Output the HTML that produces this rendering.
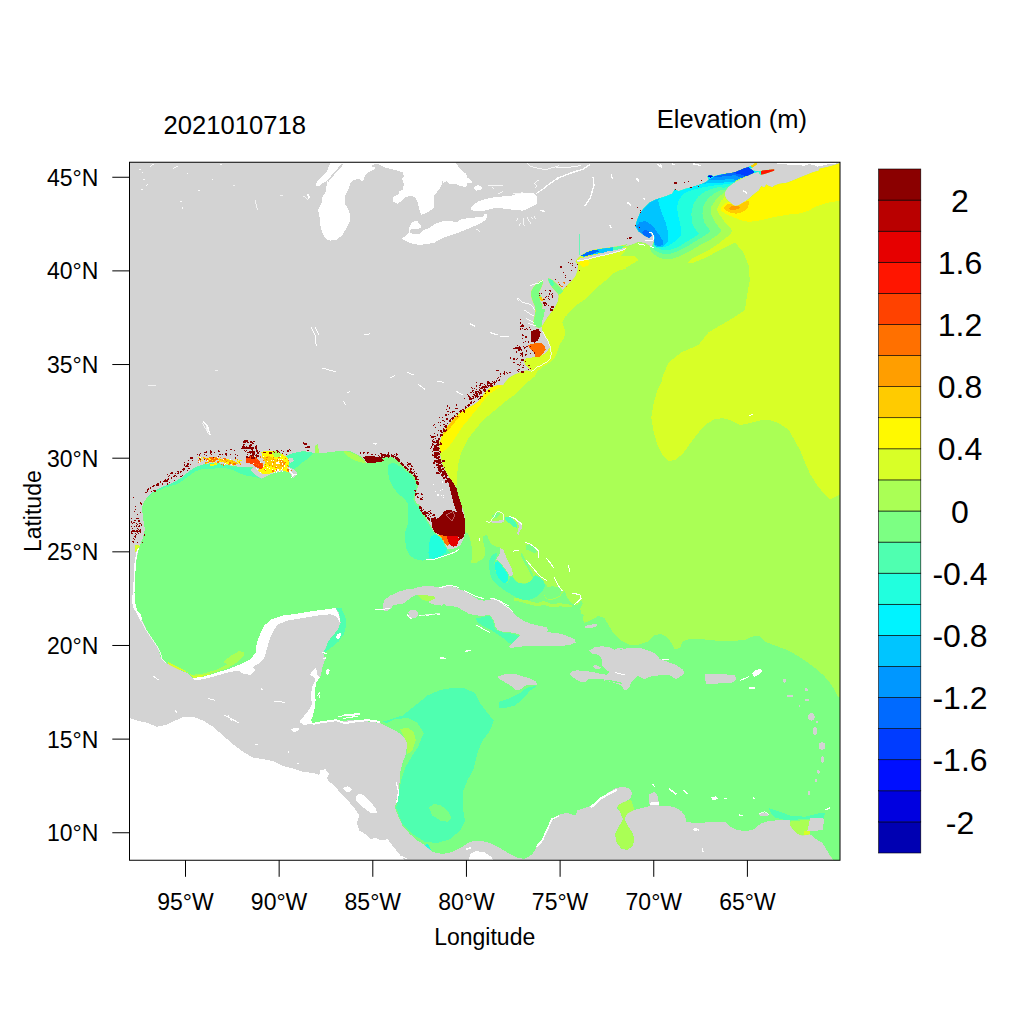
<!DOCTYPE html><html><head><meta charset="utf-8"><title>Elevation map</title>
<style>html,body{margin:0;padding:0;background:#fff}svg{display:block}text{font-family:"Liberation Sans",Arial,Helvetica,sans-serif;fill:#000}</style></head><body>
<svg width="1024" height="1024" viewBox="0 0 1024 1024">
<rect width="1024" height="1024" fill="#fff"/>
<defs><clipPath id="fr"><rect x="129.5" y="162.25" width="710.5" height="698"/></clipPath>
<clipPath id="oc"><path d="M839.9,163.3 835.0,165.1 826.6,167.3 818.8,169.1 819.5,170.5 812.5,172.6 808.3,174.3 801.3,177.1 794.2,179.9 787.2,182.7 778.8,184.1 774.5,185.8 772.4,187.2 768.9,186.2 766.4,184.5 764.4,187.6 761.3,186.2 760.2,188.1 759.0,190.5 755.9,192.8 752.8,195.2 749.6,198.3 746.5,200.6 743.4,202.6 740.2,204.5 737.9,205.7 734.8,206.1 732.4,204.5 730.1,202.6 727.8,200.6 725.8,198.3 724.8,195.2 724.8,192.0 727.8,187.3 732.4,183.4 737.1,181.1 741.8,178.8 746.5,176.4 750.4,174.5 753.5,173.3 755.9,172.5 758.6,171.7 759.0,173.3 760.2,174.8 764.5,174.1 768.4,172.7 774.2,170.8 774.2,169.2 768.4,169.8 762.1,170.5 758.6,171.3 756.7,170.9 753.5,170.5 750.4,168.6 752.8,167.4 757.4,163.9 755.9,162.3 753.5,164.3 750.4,165.9 748.1,167.0 744.9,167.8 740.2,169.8 735.6,171.7 730.9,172.9 726.2,173.3 721.5,174.5 716.8,175.6 712.9,176.8 712.1,175.6 709.0,175.2 707.4,176.4 709.0,179.5 705.9,182.3 701.2,184.2 696.5,185.8 691.8,187.3 686.0,188.8 678.5,191.2 674.8,189.5 672.2,193.8 666.0,196.2 656.0,199.5 649.8,202.5 643.5,208.8 639.8,213.8 637.2,220.0 635.5,226.2 638.5,231.2 643.5,235.0 649.0,238.0 652.0,235.5 650.0,232.8 652.0,232.0 654.5,236.2 654.0,241.2 651.5,246.8 644.8,243.0 638.5,242.0 631.0,245.0 623.5,246.8 628.0,244.0 620.0,246.0 610.0,247.5 600.0,248.8 590.0,250.6 583.8,253.8 581.0,255.4 578.1,258.1 575.6,261.2 578.1,265.0 577.8,270.0 575.6,276.2 572.5,280.0 568.8,283.8 565.0,287.5 562.8,290.4 560.6,287.8 556.9,284.0 553.1,280.6 550.0,278.8 548.1,278.5 549.1,282.5 551.6,286.5 554.8,290.2 558.2,294.0 558.8,296.2 558.1,301.2 555.0,307.5 551.2,312.5 547.5,317.5 544.4,322.5 541.9,326.5 540.6,322.5 543.1,317.5 543.8,312.5 541.9,310.0 542.5,305.0 540.0,301.2 541.2,296.2 538.8,292.5 541.2,287.5 543.1,282.5 541.9,280.0 537.5,283.1 533.8,286.9 531.2,291.2 531.2,296.2 532.8,301.2 535.0,306.2 535.6,311.2 534.4,317.5 533.1,322.5 535.0,326.2 539.4,328.1 541.9,326.2 542.5,331.2 545.0,336.2 548.1,341.2 550.0,346.2 551.2,352.5 550.6,358.1 547.5,361.2 542.5,363.8 537.5,366.9 533.8,370.0 531.2,371.2 526.2,370.6 520.0,372.5 513.8,375.0 508.8,378.1 505.0,382.5 503.1,385.6 497.5,385.6 491.2,387.5 486.2,391.2 482.5,396.2 478.8,401.2 473.8,405.0 470.0,406.9 460.0,412.5 453.8,418.8 447.5,426.2 442.5,433.8 440.0,442.5 439.5,440.0 439.5,447.5 440.1,453.8 441.4,460.0 443.2,466.2 445.8,471.2 449.5,477.5 453.2,482.5 456.4,487.5 457.6,492.5 459.5,498.8 461.4,505.0 463.2,510.0 464.5,515.0 465.1,520.0 465.4,526.2 465.0,532.5 464.1,537.5 462.2,541.2 460.4,545.0 457.2,547.5 452.2,549.0 447.2,548.8 445.4,545.2 443.5,540.2 441.0,537.1 437.2,535.2 434.1,532.1 432.2,527.8 429.8,524.0 427.2,520.2 424.8,515.2 420.4,510.2 419.8,505.2 416.0,502.8 414.8,497.8 416.0,492.8 417.9,486.5 417.2,481.5 414.8,476.5 411.0,473.4 406.0,469.6 402.2,465.2 397.2,460.2 391.0,456.5 384.8,457.1 379.5,460.0 372.0,463.1 378.0,461.9 372.5,463.1 366.2,462.5 362.5,457.5 356.2,453.8 350.0,451.2 345.0,450.6 337.5,451.2 331.2,451.9 325.0,452.8 319.4,452.5 317.5,444.4 315.6,445.0 315.0,453.1 313.1,453.5 311.2,451.9 302.5,451.2 292.5,453.1 285.0,456.2 286.2,459.4 287.5,463.8 290.0,468.1 293.8,469.0 297.5,473.1 296.9,475.0 293.1,478.1 291.2,475.0 287.5,471.2 282.5,471.2 275.0,472.5 268.8,475.0 261.2,478.8 255.0,475.0 250.0,470.0 253.0,467.5 243.0,466.9 233.0,466.2 223.0,463.8 213.0,462.8 203.0,464.4 195.5,466.9 189.2,471.2 181.8,477.5 173.0,482.5 164.2,486.2 155.5,490.0 149.2,495.0 144.2,501.2 141.8,507.5 143.0,517.5 144.9,530.0 143.0,537.5 139.2,547.5 136.8,558.0 135.5,566.0 134.2,578.5 133.5,591.0 134.0,601.0 138.0,613.5 141.8,619.2 148.0,633.0 158.0,648.0 160.5,656.8 168.0,664.2 178.0,669.2 188.0,673.5 193.0,678.0 203.0,676.8 215.5,673.0 228.0,669.2 240.5,664.2 250.5,659.2 255.5,653.0 256.8,643.0 260.5,633.0 264.2,625.5 271.8,619.2 283.0,615.5 298.0,613.5 313.0,611.0 328.0,609.2 335.5,608.0 338.8,612.5 340.6,622.5 337.5,630.0 332.5,636.2 328.1,641.2 326.2,647.5 323.1,652.5 325.0,658.8 322.5,667.5 320.0,677.5 316.2,682.5 315.0,690.0 315.6,700.0 315.0,707.5 313.1,715.0 311.2,720.0 313.1,723.8 323.0,722.5 333.0,721.0 340.0,721.8 350.0,720.0 360.0,720.5 370.0,721.8 380.0,723.0 390.0,728.0 397.5,731.8 403.8,736.8 407.0,743.0 406.2,753.0 402.5,763.0 400.0,773.0 399.5,783.0 398.0,793.0 396.2,800.5 395.0,808.0 398.0,815.5 402.5,825.5 410.0,834.2 417.5,840.5 425.0,845.5 432.5,851.8 442.5,854.2 452.5,851.8 462.5,846.8 470.0,841.8 480.0,840.5 490.0,843.0 500.0,848.0 510.0,854.2 517.5,858.0 525.0,858.8 532.5,854.2 537.5,845.5 543.8,839.2 547.5,828.0 552.5,820.5 560.0,814.2 567.5,813.0 575.0,815.5 577.5,810.5 587.5,806.8 596.0,805.0 595.0,803.0 601.2,798.0 607.5,793.0 615.0,788.5 622.5,786.8 628.8,788.0 632.5,793.0 630.0,799.2 625.0,801.8 618.8,804.2 617.0,808.0 620.0,811.8 623.0,819.2 618.8,826.8 615.0,834.2 616.2,841.8 621.2,848.5 627.5,850.0 633.0,845.5 634.5,839.2 632.0,831.8 627.5,825.0 624.5,819.2 627.5,813.5 633.8,810.0 642.5,808.0 650.0,806.0 648.8,801.8 649.5,794.2 653.8,791.8 657.0,794.2 658.8,801.8 658.8,805.5 667.5,805.5 675.0,807.5 681.2,811.0 685.0,815.5 686.2,821.8 695.0,823.0 705.0,822.5 715.0,821.8 725.0,821.8 730.0,826.8 737.5,830.0 746.2,831.2 753.8,829.2 760.0,824.2 765.0,821.8 775.0,820.5 785.0,820.0 790.0,820.5 790.0,825.5 793.8,830.5 797.5,834.2 802.5,835.5 810.0,834.2 816.2,839.2 822.5,843.0 826.2,849.2 830.0,855.5 833.8,860.5 842.5,860.5 842.5,108.0Z"/></clipPath>
</defs>
<g clip-path="url(#fr)" shape-rendering="crispEdges">
<rect x="129.5" y="162.25" width="710.5" height="698" fill="#D3D3D3"/>
<path d="M839.9,163.3 835.0,165.1 826.6,167.3 818.8,169.1 819.5,170.5 812.5,172.6 808.3,174.3 801.3,177.1 794.2,179.9 787.2,182.7 778.8,184.1 774.5,185.8 772.4,187.2 768.9,186.2 766.4,184.5 764.4,187.6 761.3,186.2 760.2,188.1 759.0,190.5 755.9,192.8 752.8,195.2 749.6,198.3 746.5,200.6 743.4,202.6 740.2,204.5 737.9,205.7 734.8,206.1 732.4,204.5 730.1,202.6 727.8,200.6 725.8,198.3 724.8,195.2 724.8,192.0 727.8,187.3 732.4,183.4 737.1,181.1 741.8,178.8 746.5,176.4 750.4,174.5 753.5,173.3 755.9,172.5 758.6,171.7 759.0,173.3 760.2,174.8 764.5,174.1 768.4,172.7 774.2,170.8 774.2,169.2 768.4,169.8 762.1,170.5 758.6,171.3 756.7,170.9 753.5,170.5 750.4,168.6 752.8,167.4 757.4,163.9 755.9,162.3 753.5,164.3 750.4,165.9 748.1,167.0 744.9,167.8 740.2,169.8 735.6,171.7 730.9,172.9 726.2,173.3 721.5,174.5 716.8,175.6 712.9,176.8 712.1,175.6 709.0,175.2 707.4,176.4 709.0,179.5 705.9,182.3 701.2,184.2 696.5,185.8 691.8,187.3 686.0,188.8 678.5,191.2 674.8,189.5 672.2,193.8 666.0,196.2 656.0,199.5 649.8,202.5 643.5,208.8 639.8,213.8 637.2,220.0 635.5,226.2 638.5,231.2 643.5,235.0 649.0,238.0 652.0,235.5 650.0,232.8 652.0,232.0 654.5,236.2 654.0,241.2 651.5,246.8 644.8,243.0 638.5,242.0 631.0,245.0 623.5,246.8 628.0,244.0 620.0,246.0 610.0,247.5 600.0,248.8 590.0,250.6 583.8,253.8 581.0,255.4 578.1,258.1 575.6,261.2 578.1,265.0 577.8,270.0 575.6,276.2 572.5,280.0 568.8,283.8 565.0,287.5 562.8,290.4 560.6,287.8 556.9,284.0 553.1,280.6 550.0,278.8 548.1,278.5 549.1,282.5 551.6,286.5 554.8,290.2 558.2,294.0 558.8,296.2 558.1,301.2 555.0,307.5 551.2,312.5 547.5,317.5 544.4,322.5 541.9,326.5 540.6,322.5 543.1,317.5 543.8,312.5 541.9,310.0 542.5,305.0 540.0,301.2 541.2,296.2 538.8,292.5 541.2,287.5 543.1,282.5 541.9,280.0 537.5,283.1 533.8,286.9 531.2,291.2 531.2,296.2 532.8,301.2 535.0,306.2 535.6,311.2 534.4,317.5 533.1,322.5 535.0,326.2 539.4,328.1 541.9,326.2 542.5,331.2 545.0,336.2 548.1,341.2 550.0,346.2 551.2,352.5 550.6,358.1 547.5,361.2 542.5,363.8 537.5,366.9 533.8,370.0 531.2,371.2 526.2,370.6 520.0,372.5 513.8,375.0 508.8,378.1 505.0,382.5 503.1,385.6 497.5,385.6 491.2,387.5 486.2,391.2 482.5,396.2 478.8,401.2 473.8,405.0 470.0,406.9 460.0,412.5 453.8,418.8 447.5,426.2 442.5,433.8 440.0,442.5 439.5,440.0 439.5,447.5 440.1,453.8 441.4,460.0 443.2,466.2 445.8,471.2 449.5,477.5 453.2,482.5 456.4,487.5 457.6,492.5 459.5,498.8 461.4,505.0 463.2,510.0 464.5,515.0 465.1,520.0 465.4,526.2 465.0,532.5 464.1,537.5 462.2,541.2 460.4,545.0 457.2,547.5 452.2,549.0 447.2,548.8 445.4,545.2 443.5,540.2 441.0,537.1 437.2,535.2 434.1,532.1 432.2,527.8 429.8,524.0 427.2,520.2 424.8,515.2 420.4,510.2 419.8,505.2 416.0,502.8 414.8,497.8 416.0,492.8 417.9,486.5 417.2,481.5 414.8,476.5 411.0,473.4 406.0,469.6 402.2,465.2 397.2,460.2 391.0,456.5 384.8,457.1 379.5,460.0 372.0,463.1 378.0,461.9 372.5,463.1 366.2,462.5 362.5,457.5 356.2,453.8 350.0,451.2 345.0,450.6 337.5,451.2 331.2,451.9 325.0,452.8 319.4,452.5 317.5,444.4 315.6,445.0 315.0,453.1 313.1,453.5 311.2,451.9 302.5,451.2 292.5,453.1 285.0,456.2 286.2,459.4 287.5,463.8 290.0,468.1 293.8,469.0 297.5,473.1 296.9,475.0 293.1,478.1 291.2,475.0 287.5,471.2 282.5,471.2 275.0,472.5 268.8,475.0 261.2,478.8 255.0,475.0 250.0,470.0 253.0,467.5 243.0,466.9 233.0,466.2 223.0,463.8 213.0,462.8 203.0,464.4 195.5,466.9 189.2,471.2 181.8,477.5 173.0,482.5 164.2,486.2 155.5,490.0 149.2,495.0 144.2,501.2 141.8,507.5 143.0,517.5 144.9,530.0 143.0,537.5 139.2,547.5 136.8,558.0 135.5,566.0 134.2,578.5 133.5,591.0 134.0,601.0 138.0,613.5 141.8,619.2 148.0,633.0 158.0,648.0 160.5,656.8 168.0,664.2 178.0,669.2 188.0,673.5 193.0,678.0 203.0,676.8 215.5,673.0 228.0,669.2 240.5,664.2 250.5,659.2 255.5,653.0 256.8,643.0 260.5,633.0 264.2,625.5 271.8,619.2 283.0,615.5 298.0,613.5 313.0,611.0 328.0,609.2 335.5,608.0 338.8,612.5 340.6,622.5 337.5,630.0 332.5,636.2 328.1,641.2 326.2,647.5 323.1,652.5 325.0,658.8 322.5,667.5 320.0,677.5 316.2,682.5 315.0,690.0 315.6,700.0 315.0,707.5 313.1,715.0 311.2,720.0 313.1,723.8 323.0,722.5 333.0,721.0 340.0,721.8 350.0,720.0 360.0,720.5 370.0,721.8 380.0,723.0 390.0,728.0 397.5,731.8 403.8,736.8 407.0,743.0 406.2,753.0 402.5,763.0 400.0,773.0 399.5,783.0 398.0,793.0 396.2,800.5 395.0,808.0 398.0,815.5 402.5,825.5 410.0,834.2 417.5,840.5 425.0,845.5 432.5,851.8 442.5,854.2 452.5,851.8 462.5,846.8 470.0,841.8 480.0,840.5 490.0,843.0 500.0,848.0 510.0,854.2 517.5,858.0 525.0,858.8 532.5,854.2 537.5,845.5 543.8,839.2 547.5,828.0 552.5,820.5 560.0,814.2 567.5,813.0 575.0,815.5 577.5,810.5 587.5,806.8 596.0,805.0 595.0,803.0 601.2,798.0 607.5,793.0 615.0,788.5 622.5,786.8 628.8,788.0 632.5,793.0 630.0,799.2 625.0,801.8 618.8,804.2 617.0,808.0 620.0,811.8 623.0,819.2 618.8,826.8 615.0,834.2 616.2,841.8 621.2,848.5 627.5,850.0 633.0,845.5 634.5,839.2 632.0,831.8 627.5,825.0 624.5,819.2 627.5,813.5 633.8,810.0 642.5,808.0 650.0,806.0 648.8,801.8 649.5,794.2 653.8,791.8 657.0,794.2 658.8,801.8 658.8,805.5 667.5,805.5 675.0,807.5 681.2,811.0 685.0,815.5 686.2,821.8 695.0,823.0 705.0,822.5 715.0,821.8 725.0,821.8 730.0,826.8 737.5,830.0 746.2,831.2 753.8,829.2 760.0,824.2 765.0,821.8 775.0,820.5 785.0,820.0 790.0,820.5 790.0,825.5 793.8,830.5 797.5,834.2 802.5,835.5 810.0,834.2 816.2,839.2 822.5,843.0 826.2,849.2 830.0,855.5 833.8,860.5 842.5,860.5 842.5,108.0Z" fill="#7CFF83"/>
<g clip-path="url(#oc)">
<path d="M450.0,531.9 465.0,531.9 467.8,533.1 469.8,537.5 471.0,543.8 472.5,550.0 472.0,556.2 471.2,563.1 475.0,563.5 480.0,560.6 483.5,558.5 485.4,553.1 484.8,547.5 483.1,541.9 483.1,536.2 486.9,534.4 489.0,540.0 491.5,544.4 496.2,546.5 500.2,547.5 503.1,552.5 506.2,560.0 510.0,567.5 512.5,573.8 512.8,576.5 515.0,580.0 518.8,582.8 525.0,583.5 530.0,581.5 532.8,577.8 535.0,575.0 538.8,576.9 542.5,580.6 545.6,583.8 547.5,586.2 545.0,590.0 543.5,595.0 546.2,599.0 550.0,600.2 555.0,599.0 560.0,596.5 562.5,593.1 564.4,590.6 566.2,595.0 568.8,600.0 572.5,604.0 577.5,605.2 581.2,600.6 582.8,603.8 580.2,608.8 581.5,613.8 585.0,615.2 582.5,616.6 584.1,622.8 588.8,621.2 595.0,618.1 598.1,615.8 604.4,618.1 609.1,625.9 613.8,633.8 620.0,640.0 629.4,644.7 638.8,644.7 648.1,641.6 654.4,635.3 660.6,633.8 666.9,636.9 671.6,643.1 674.7,649.4 680.0,647.8 682.5,641.8 690.0,638.5 702.5,639.2 715.0,640.5 730.0,641.0 745.0,640.0 753.8,636.0 760.0,636.0 765.0,641.8 775.0,645.5 785.0,649.2 795.0,654.2 805.0,660.5 815.0,668.0 823.8,675.5 830.0,683.0 835.0,690.5 838.0,696.8 842.5,698.0 1000.0,-100.0 448.0,-100.0 448.0,532.0Z" fill="#AAFF55"/>
<path d="M842.5,493.8 836.2,496.2 830.0,499.5 823.8,493.8 816.2,483.8 810.0,473.8 805.0,462.5 800.0,450.0 793.8,438.8 788.8,430.0 780.0,423.8 770.0,420.0 760.0,420.5 750.0,423.0 740.0,425.0 731.2,420.5 722.5,418.0 713.8,419.5 705.0,425.0 697.5,433.8 690.0,443.8 683.8,452.5 676.2,459.5 668.8,461.2 662.5,455.0 657.5,445.0 653.8,432.5 651.2,417.5 653.8,402.5 657.5,390.0 662.5,380.0 662.2,377.5 668.5,362.5 681.0,352.5 698.5,345.0 708.5,332.5 721.0,325.0 736.0,316.2 744.8,310.0 747.2,295.0 749.8,280.0 748.5,265.0 743.5,252.5 735.0,242.5 730.0,245.0 722.5,248.8 715.0,252.5 707.5,256.9 700.0,260.0 693.8,262.5 687.5,263.1 692.5,258.5 701.2,253.8 710.0,249.4 720.0,242.5 726.2,237.5 731.2,233.8 731.9,230.6 730.0,227.5 726.2,223.8 721.9,218.8 718.8,213.8 716.9,210.0 718.8,205.0 721.2,201.2 723.1,195.0 1000.0,100.0Z" fill="#D8FF27"/>
<path d="M600.0,235.0 627.0,247.0 624.0,253.0 620.0,256.2 635.0,256.2 638.8,260.0 632.5,263.8 626.2,267.5 626.2,269.0 620.0,270.0 612.5,273.8 606.2,280.0 600.0,285.0 593.8,291.2 587.5,297.5 581.2,301.9 575.0,306.2 570.0,311.2 566.2,316.2 566.2,315.0 562.5,322.5 565.0,331.2 564.4,337.5 560.0,343.8 557.5,351.2 555.0,357.5 550.0,362.5 543.8,366.2 537.5,371.2 535.0,376.2 528.8,381.2 522.5,387.5 516.2,393.8 508.8,398.8 501.2,405.0 493.8,411.2 486.2,417.5 480.0,423.8 475.0,430.0 470.0,436.2 467.5,440.0 461.2,452.5 458.0,465.0 457.0,477.5 456.2,490.0 450.0,490.0 425.0,405.0 500.0,330.0 540.0,240.0Z" fill="#D8FF27"/>
<path d="M842.0,201.0 832.2,201.7 823.8,203.8 815.3,206.6 809.7,210.1 804.1,212.3 798.4,213.7 790.0,214.4 781.6,215.8 773.1,217.2 764.7,219.3 756.3,221.0 749.2,221.8 742.2,220.7 735.2,217.9 728.1,215.1 723.2,212.3 721.1,210.1 720.8,207.3 724.6,203.8 727.4,202.4 736.6,198.2 756.3,184.1 798.4,170.1 842.0,156.0Z" fill="#FFF900"/>
<path d="M723.9,207.3 726.7,204.5 730.2,203.8 733.8,205.2 739.4,204.5 745.0,201.7 748.5,200.7 748.9,204.5 747.1,208.7 742.2,212.3 736.6,213.7 730.9,213.0 726.7,210.8 724.2,208.7Z" fill="#FFCB00"/>
<path d="M728.8,208.0 732.3,205.9 738.0,205.9 740.1,206.9 738.0,209.2 733.0,210.1 729.5,209.4Z" fill="#FF9E00"/>
<path d="M500.0,384.4 495.0,385.0 488.8,388.1 482.5,394.4 478.8,400.0 472.5,404.4 465.0,409.4 457.5,415.6 450.0,423.1 443.8,431.9 439.4,441.2 440.0,453.1 445.0,450.0 450.0,445.0 453.8,440.0 458.8,432.5 463.8,425.0 470.0,417.5 476.2,410.0 481.2,403.8 485.0,398.8 490.0,393.8 496.2,388.8 503.1,385.6Z" fill="#FFF900"/>
<path d="M457.5,415.0 453.8,418.8 449.4,423.8 444.4,431.2 442.5,435.0 446.9,431.9 451.2,426.9 455.6,421.2 459.8,416.2Z" fill="#FFCB00"/>
<path d="M578.8,261.2 587.5,259.4 590.0,262.5 587.5,266.2 582.5,266.9 579.4,264.4Z" fill="#FFF900"/>
<path d="M738.7,183.4 724.8,195.9 723.1,199.1 719.2,202.2 716.0,206.1 716.8,210.8 720.7,216.2 726.2,224.1 731.7,230.3 731.2,233.8 726.2,237.5 720.0,242.5 710.0,249.4 701.2,253.8 692.5,258.5 687.5,263.1 680.0,265.0 670.0,265.0 657.5,262.5 651.2,256.2 650.0,250.0 653.5,243.1 654.0,239.8 652.8,235.6 649.8,232.2 632.5,231.2 607.5,225.0 607.5,150.0 682.5,150.0Z" fill="#AAFF55"/>
<path d="M738.7,183.4 724.8,192.2 720.7,195.2 715.2,200.6 711.0,206.9 711.3,214.7 715.2,222.5 721.9,231.1 717.5,235.0 710.0,240.0 700.0,245.0 690.0,251.2 680.0,256.2 672.5,258.8 665.0,259.4 657.5,256.9 652.5,253.1 650.0,249.4 653.5,243.1 654.0,239.8 652.8,235.6 649.8,232.2 632.5,231.2 607.5,225.0 607.5,150.0 682.5,150.0Z" fill="#7CFF83"/>
<path d="M738.7,183.4 723.8,190.5 722.3,189.7 718.4,191.2 712.9,194.4 707.4,199.1 703.5,206.1 702.4,213.9 704.3,222.5 710.6,231.1 705.0,235.6 697.5,240.0 687.5,246.2 677.5,251.2 670.0,253.8 662.5,253.8 656.2,251.2 652.5,248.8 653.5,243.1 654.0,239.8 652.8,235.6 649.8,232.2 632.5,231.2 607.5,225.0 607.5,150.0 682.5,150.0Z" fill="#4FFFB0"/>
<path d="M738.7,183.4 727.8,186.6 724.6,187.7 718.4,187.3 711.3,188.9 704.3,192.0 698.1,196.7 693.4,203.8 691.4,213.1 691.8,222.5 696.9,231.9 699.4,233.1 695.0,236.9 687.5,241.2 678.8,246.9 670.0,250.0 662.5,250.0 657.5,248.1 654.4,246.9 653.5,243.1 654.0,239.8 652.8,235.6 649.8,232.2 632.5,231.2 607.5,225.0 607.5,150.0 682.5,150.0Z" fill="#21FFDE"/>
<path d="M734.0,182.3 730.9,183.4 724.6,184.4 719.2,184.8 711.3,185.9 703.5,187.2 695.7,189.1 688.7,191.4 684.0,193.2 678.8,200.0 676.9,207.5 678.1,215.0 680.0,222.5 681.2,230.0 680.6,236.2 675.0,241.2 668.8,245.6 662.5,247.5 657.5,246.9 653.5,243.1 654.0,239.8 652.8,235.6 649.8,232.2 632.5,231.2 607.5,225.0 607.5,150.0 682.5,150.0Z" fill="#00F3FF"/>
<path d="M709.8,180.5 702.8,183.8 691.8,187.5 676.2,190.1 664.5,193.2 658.1,200.0 660.0,207.5 662.5,215.0 665.6,222.5 667.5,230.0 668.1,236.2 667.5,242.5 663.8,246.2 658.8,247.5 655.6,246.2 653.5,243.1 654.0,239.8 652.8,235.6 649.8,232.2 632.5,231.2 607.5,225.0 607.5,150.0 682.5,150.0Z" fill="#00C5FF"/>
<path d="M636.2,226.2 640.0,221.9 645.0,221.2 650.0,223.8 655.0,228.8 660.0,236.2 663.1,241.2 662.5,245.0 658.8,246.2 655.0,245.0 653.8,241.2 655.0,237.5 653.1,233.8 650.0,231.9 648.1,232.5 651.2,234.4 653.1,237.5 650.0,238.1 645.0,236.9 641.9,233.1 638.1,229.4Z" fill="#0097FF"/>
<path d="M635.0,231.2 649.5,231.2 652.8,235.6 653.8,239.8 645.0,241.2 637.5,241.2Z" fill="#0097FF"/>
<path d="M641.9,231.9 645.0,230.0 648.8,231.2 651.2,233.8 652.8,236.9 650.0,238.1 645.6,236.9 643.1,234.4Z" fill="#006AFF"/>
<path d="M702.0,183.8 707.4,183.4 715.2,183.0 723.1,182.7 730.9,181.5 734.0,182.3 730.9,183.4 724.6,184.4 719.2,184.8 711.3,185.9 703.5,187.2 699.6,186.6Z" fill="#00F3FF"/>
<path d="M705.9,182.3 709.8,180.5 715.2,180.2 723.1,179.7 730.9,178.8 737.1,179.9 734.0,182.3 730.9,181.5 723.1,182.7 715.2,183.0 707.4,183.4 702.8,183.8Z" fill="#00C5FF"/>
<path d="M709.0,179.5 712.9,177.3 719.2,176.8 727.0,176.0 734.8,175.2 741.8,177.6 737.1,180.2 730.9,178.8 723.1,179.7 715.2,180.2 709.8,180.5Z" fill="#0097FF"/>
<path d="M712.9,176.8 716.8,175.6 721.5,174.5 726.2,173.4 732.4,173.3 738.7,173.7 746.5,176.0 741.8,178.0 734.8,175.2 727.0,176.0 719.2,176.8Z" fill="#006AFF"/>
<path d="M726.2,173.3 730.9,172.9 735.6,171.7 740.2,169.8 744.9,167.8 748.1,166.9 750.4,168.6 752.8,170.2 754.3,172.5 750.4,174.7 746.5,176.4 738.7,173.7 732.4,173.3Z" fill="#003CFF"/>
<path d="M707.4,175.2 711.3,174.7 712.8,176.6 711.0,177.8 708.6,177.0Z" fill="#0000E0"/>
<path d="M748.1,166.6 750.4,165.6 752.0,167.4 750.4,168.8Z" fill="#00F3FF"/>
<path d="M750.4,165.6 753.5,164.1 756.0,162.2 757.6,163.9 752.8,167.6Z" fill="#FFCB00"/>
<path d="M752.8,170.2 756.7,170.8 758.8,171.6 757.8,172.9 754.3,172.7Z" fill="#00F3FF"/>
<path d="M760.2,170.9 764.5,170.0 774.6,168.8 774.6,170.9 768.4,172.9 764.5,174.5 761.0,175.0 759.8,173.3Z" fill="#FF1500"/>
<path d="M758.2,170.9 761.0,170.8 761.0,175.0 758.8,173.7Z" fill="#21FFDE"/>
<path d="M581.2,255.6 587.5,251.9 600.0,248.8 612.5,247.2 620.0,246.9 620.0,250.0 610.0,251.5 600.0,253.1 590.0,255.0 583.8,256.9Z" fill="#00C5FF"/>
<path d="M581.2,255.6 587.5,251.9 595.0,249.8 600.0,251.2 592.5,254.0 585.0,256.5Z" fill="#006AFF"/>
<path d="M612.5,247.2 620.0,246.0 625.0,246.2 620.0,250.0 612.5,251.2Z" fill="#4FFFB0"/>
<path d="M541.9,326.5 540.6,322.5 543.1,317.5 543.8,312.5 541.9,310.0 542.5,305.0 540.0,301.2 541.2,296.2 538.8,292.5 541.2,287.5 543.1,282.5 541.9,280.0 537.5,283.1 533.8,286.9 531.2,291.2 531.2,296.2 532.8,301.2 535.0,306.2 535.6,311.2 534.4,317.5 533.1,322.5 535.0,326.9 539.4,328.8Z" fill="#7CFF83"/>
<path d="M563.8,291.2 560.6,287.8 556.9,284.0 553.1,280.6 550.0,278.8 547.5,278.1 549.1,282.5 551.6,286.5 554.8,290.2 558.8,295.0Z" fill="#7CFF83"/>
<path d="M553.1,280.6 550.0,278.8 547.5,278.1 549.1,282.5 551.6,286.5 553.8,285.0Z" fill="#4FFFB0"/>
<path d="M388.9,463.8 394.5,463.1 400.8,466.9 405.8,471.2 410.8,475.0 414.5,480.0 416.4,486.2 415.1,492.5 413.2,498.8 415.1,503.8 418.9,507.5 422.0,513.8 425.8,520.0 428.9,525.0 432.0,530.0 434.5,533.8 442.0,538.8 447.0,550.0 449.5,552.5 442.0,557.5 429.5,560.0 427.0,560.0 422.0,560.6 414.5,558.8 409.5,555.0 406.4,548.8 405.1,540.0 405.1,532.5 407.6,525.0 408.2,517.5 407.6,510.0 408.2,503.8 404.5,498.8 398.2,493.8 393.2,487.5 389.5,480.0 388.0,472.5 388.2,466.2Z" fill="#4FFFB0"/>
<path d="M430.8,536.9 434.5,534.4 438.2,535.6 442.0,540.0 444.5,545.6 447.0,549.0 445.8,552.5 440.8,556.2 434.5,558.8 429.5,558.1 428.5,552.5 428.9,543.8Z" fill="#21FFDE"/>
<path d="M513.8,597.8 520.0,598.6 529.4,600.9 537.2,603.3 543.4,600.9 551.2,603.8 560.6,603.3 571.6,604.8 572.5,607.2 560.6,606.4 551.2,607.2 543.4,604.8 537.2,606.4 529.4,604.4 520.0,601.7 513.8,600.9Z" fill="#AAFF55"/>
<path d="M489.4,560.0 491.9,555.0 497.5,552.5 496.2,557.5 494.4,562.5 495.0,570.0 497.5,576.2 502.5,581.2 507.5,583.1 510.0,577.5 512.5,576.9 515.0,580.6 518.8,583.1 525.0,583.8 530.0,581.9 533.1,578.1 535.0,575.0 540.0,577.5 543.8,581.2 545.0,586.2 542.5,591.2 537.5,596.2 531.2,599.4 523.8,600.0 516.2,597.5 510.0,593.8 503.8,590.0 497.5,585.0 492.5,580.0 490.0,573.8 489.0,566.2Z" fill="#4FFFB0"/>
<path d="M495.0,562.5 497.5,561.2 501.2,565.0 505.0,570.0 508.1,575.0 507.5,581.2 504.4,583.5 500.0,580.0 496.9,575.0 495.2,568.8Z" fill="#21FFDE"/>
<path d="M504.4,516.9 510.0,516.9 513.8,520.0 516.9,524.4 517.5,528.1 513.8,526.9 510.0,523.8 506.2,521.2Z" fill="#4FFFB0"/>
<path d="M492.2,515.6 497.5,511.9 500.2,513.8 497.5,517.5 493.1,518.8Z" fill="#7CFF83"/>
<path d="M525.6,545.0 530.0,544.4 535.0,548.1 537.2,551.9 535.0,553.1 530.0,551.2 526.2,549.4Z" fill="#7CFF83"/>
<path d="M521.5,553.1 523.1,555.0 525.6,560.0 529.4,566.9 532.5,573.1 533.8,576.9 531.9,577.5 530.0,572.5 526.9,566.9 523.5,561.2 521.2,556.9Z" fill="#7CFF83"/>
<path d="M546.2,587.5 552.5,586.2 558.8,587.5 561.9,591.2 560.0,595.6 555.0,598.1 550.0,599.4 546.2,598.1 544.0,594.4 544.8,590.6Z" fill="#7CFF83"/>
<path d="M493.8,600.0 497.5,600.6 502.5,604.4 506.2,608.5 504.4,609.0 500.0,605.6 495.6,602.5Z" fill="#4FFFB0"/>
<path d="M475.9,618.1 481.5,617.5 489.0,615.6 492.8,620.0 494.6,627.5 497.1,630.6 502.8,632.5 509.0,633.1 516.5,635.0 524.0,638.8 521.5,643.8 515.2,645.0 507.8,642.5 504.0,638.8 496.5,633.8 489.0,628.8 481.5,625.0 477.1,621.9Z" fill="#4FFFB0"/>
<path d="M382.5,721.8 402.5,715.5 415.0,705.5 427.5,695.5 440.0,690.0 452.5,688.0 465.0,688.5 475.0,693.0 480.0,703.0 487.5,713.0 493.8,720.5 490.0,730.5 482.5,740.5 477.5,753.0 473.8,768.0 467.5,780.5 462.5,793.0 462.5,805.5 465.0,820.5 460.0,830.5 450.0,839.2 437.5,843.0 425.0,841.8 412.5,834.2 402.5,824.2 396.2,808.0 398.8,793.0 401.2,780.5 405.0,768.0 412.5,755.5 417.5,748.0 423.8,733.0 417.5,723.0 407.5,718.0 395.0,719.2 387.5,723.0Z" fill="#4FFFB0"/>
<path d="M428.8,808.0 433.8,803.5 441.2,805.5 448.8,811.8 451.2,818.0 447.5,821.8 440.0,820.5 432.5,815.5Z" fill="#7CFF83"/>
<path d="M400.0,729.2 407.5,727.5 413.8,731.8 415.8,740.5 412.5,750.5 407.5,754.2 407.0,743.0 403.8,736.8Z" fill="#AAFF55"/>
<path d="M498.8,701.8 510.0,698.0 520.0,693.0 526.2,688.0 537.5,685.5 530.0,690.5 523.8,698.0 515.0,705.5 505.0,708.0 498.8,708.0Z" fill="#4FFFB0"/>
<path d="M333.8,607.5 341.2,607.8 345.2,616.2 346.5,625.0 344.0,633.8 339.0,641.2 332.8,646.5 327.8,650.2 322.5,653.8 322.5,651.9 326.2,647.5 328.1,641.2 332.5,636.2 337.5,630.0 340.6,622.5 338.8,612.5Z" fill="#4FFFB0"/>
<path d="M149.2,495.0 155.5,490.0 164.2,486.2 173.0,482.5 181.8,477.5 189.2,471.2 195.5,466.9 203.0,464.4 213.0,462.8 223.0,463.8 233.0,466.2 243.0,466.9 256.0,467.5 260.5,478.8 256.0,476.9 248.0,476.2 240.5,473.8 233.0,470.0 223.0,467.5 213.0,468.8 203.0,468.8 195.5,471.2 186.8,477.5 178.0,483.8 165.5,487.5 153.0,492.5 146.8,498.8Z" fill="#4FFFB0"/>
<path d="M247.5,468.1 250.0,468.1 257.5,472.5 265.0,476.2 261.2,479.0 255.0,475.6 250.0,470.6Z" fill="#4FFFB0"/>
<path d="M285.0,456.2 292.5,453.1 302.5,451.2 311.2,451.9 313.1,453.8 307.5,458.8 302.5,462.5 298.8,466.2 293.8,469.0 290.0,468.1 287.5,463.8 286.2,459.4Z" fill="#4FFFB0"/>
<path d="M343.1,451.0 350.0,452.0 357.5,455.4 363.8,459.8 365.9,463.1 358.8,461.9 352.5,459.4 347.5,456.2Z" fill="#AAFF55"/>
<path d="M315.2,445.0 317.8,444.4 319.5,452.8 315.0,453.2Z" fill="#AAFF55"/>
<path d="M223.0,662.2 230.5,656.0 239.2,651.0 243.5,652.2 238.0,658.5 228.0,664.8Z" fill="#AAFF55"/>
<path d="M168.0,662.2 178.0,667.2 185.5,671.0 178.0,669.8 169.2,665.5Z" fill="#D8FF27"/>
<path d="M617.0,805.5 625.0,801.0 631.2,800.0 634.5,810.0 627.5,813.5 624.5,819.2 627.5,825.0 632.0,831.8 634.5,839.2 633.0,845.5 627.5,850.0 621.2,848.5 616.2,841.8 615.0,834.2 618.8,826.8 623.0,819.2 620.0,811.8Z" fill="#AAFF55"/>
<path d="M788.8,821.8 800.0,820.5 810.0,820.0 810.0,834.2 802.5,836.0 796.2,833.0 791.2,828.0Z" fill="#AAFF55"/>
<path d="M803.8,830.5 810.0,830.5 810.0,835.5 804.5,835.5Z" fill="#D8FF27"/>
<path d="M768.8,808.0 780.0,811.8 790.0,815.5 805.0,816.8 817.5,813.5 825.0,812.5 823.8,817.5 810.0,819.2 797.5,819.5 785.0,820.0 775.0,817.5 770.0,811.8Z" fill="#4FFFB0"/>
<path d="M823.8,848.0 830.0,855.5 833.8,860.5 825.0,860.5Z" fill="#AAFF55"/>
<path d="M503.1,385.0 497.5,385.0 491.2,386.9 486.2,390.6 482.5,395.6 478.8,400.6 473.8,404.4 468.8,406.9 468.8,418.8 475.0,410.0 480.0,403.8 485.0,397.5 491.2,392.5 498.8,388.1Z" fill="#FFF900"/>
<path d="M190.5,675.0 203.0,673.5 215.5,670.0 228.0,664.2 238.0,655.5 243.5,651.8 244.2,655.5 238.0,661.8 228.0,668.0 215.5,672.5 203.0,676.0 193.5,678.0Z" fill="#AAFF55"/>
<path d="M165.5,661.8 178.0,668.8 188.0,673.0 193.5,678.0 203.0,676.5 213.0,673.5 203.0,675.0 193.5,676.0 185.5,671.0 175.5,666.0Z" fill="#D8FF27"/>
<path d="M416.8,594.8 426.5,594.8 434.6,596.0 436.0,598.8 431.5,600.8 426.5,600.8 421.5,599.4Z" fill="#AAFF55"/>
<path d="M422.0,845.2 427.9,844.2 431.2,850.1 425.9,852.4Z" fill="#21FFDE"/>
</g>
<path d="M532.5,357.5 540.0,356.2 546.2,352.5 550.0,347.5 551.2,352.5 550.6,358.1 547.5,361.2 542.5,363.8 537.5,366.9 533.8,370.0 531.2,371.2 528.8,368.8 525.0,365.0 523.8,360.0 527.5,357.5Z" fill="#D8FF27"/>
<path d="M528.1,345.0 535.0,343.1 541.2,342.5 545.0,346.2 545.6,350.0 542.5,353.8 539.4,356.9 535.6,356.9 534.4,352.5 531.2,350.0 528.8,347.5Z" fill="#FF7000"/>
<path d="M530.9,331.2 535.0,330.0 538.1,328.8 540.6,331.9 540.0,336.2 538.1,340.0 535.0,342.8 531.2,341.9 530.6,336.9Z" fill="#8B0000"/>
<path d="M536.2,308.8 545.0,308.8 543.8,316.2 541.9,322.5 541.2,327.5 536.2,326.2 534.4,322.5 535.6,316.2Z" fill="#7CFF83"/>
<path d="M430.8,517.5 437.0,518.8 442.0,515.0 443.9,511.2 448.2,510.0 453.2,510.6 457.0,512.5 459.5,510.0 461.4,509.4 463.9,515.0 465.1,520.0 465.4,526.2 465.0,532.5 463.9,536.2 461.4,538.8 459.5,540.0 458.2,536.2 452.0,535.6 447.0,536.2 443.2,535.6 439.5,535.0 435.8,533.1 433.2,530.0 432.0,526.2 431.4,521.2Z" fill="#8B0000"/>
<path d="M445.8,477.5 449.5,477.5 453.2,482.5 456.4,488.1 457.6,492.5 459.5,498.8 461.4,505.0 462.6,509.4 459.5,510.0 457.0,512.5 455.1,507.5 453.2,502.5 452.0,496.2 450.1,490.0 448.9,483.8 447.0,480.0Z" fill="#8B0000"/>
<path d="M447.0,536.2 452.0,535.6 458.2,536.2 458.9,540.0 457.0,545.6 453.2,546.9 449.5,544.4 447.6,540.0Z" fill="#E60000"/>
<path d="M439.5,535.0 443.2,535.6 447.0,536.2 447.6,540.0 449.5,544.4 447.0,546.2 444.5,542.5 442.0,538.8Z" fill="#FF7000"/>
<path d="M437.2,535.2 440.1,535.2 443.9,541.2 445.8,545.6 447.0,548.1 445.4,545.2 443.5,540.2 441.0,537.1Z" fill="#FFCB00"/>
<path d="M372.0,457.5 377.0,456.9 383.2,458.8 383.9,461.2 379.5,461.9 372.0,463.1Z" fill="#8B0000"/>
<path d="M261.2,451.9 268.8,450.6 276.2,451.2 282.5,454.4 287.5,457.5 289.4,462.5 287.5,467.5 291.2,472.5 287.5,471.9 281.2,470.0 275.0,471.9 268.8,473.8 262.5,473.8 257.5,470.0 262.5,467.5 265.0,462.5 262.5,457.5Z" fill="#FFF900"/>
<path d="M262.5,457.5 268.8,456.2 275.0,458.8 280.0,462.5 285.0,468.1 281.2,469.4 275.0,467.5 268.8,465.0 265.0,462.5Z" fill="#FFCB00"/>
<path d="M246.2,456.9 251.2,456.2 255.0,457.0 260.0,461.9 264.4,466.5 261.9,469.0 257.5,468.1 252.5,464.4 246.2,462.5Z" fill="#FF4200"/>
<path d="M279.4,460.0 283.8,460.6 285.6,463.8 283.1,466.9 280.0,465.6Z" fill="#FF9E00"/>
<path d="M271.9,453.1 276.2,451.2 281.2,453.8 280.0,456.9 275.0,457.5Z" fill="#AAFF55"/>
<path d="M287.5,458.8 292.5,457.5 293.8,461.2 290.0,463.1Z" fill="#D3D3D3"/>
<path d="M218.0,459.4 225.5,459.0 234.2,460.8 238.0,463.5 234.2,465.0 225.5,462.8 219.2,461.5Z" fill="#FFCB00"/>
<path d="M205.5,460.0 209.2,457.2 215.5,456.9 218.6,459.0 214.9,461.5 209.2,462.2Z" fill="#FF7000"/>
<path d="M363.1,457.5 367.5,455.6 371.9,456.2 378.0,456.9 378.8,461.9 372.5,463.1 366.9,462.5Z" fill="#8B0000"/>
<path d="M134.9,545.6 138.0,544.4 139.9,546.2 138.0,550.6 135.5,551.5Z" fill="#D8FF27"/>
<path d="M807.5,830.5 810.0,818.5 822.5,817.5 824.0,820.5 822.5,830.0 812.5,831.2ZM705.5,674.2 715.0,673.5 725.0,674.2 735.0,675.5 736.2,679.2 732.5,682.5 722.5,683.0 712.5,684.2 706.2,683.5 705.0,679.2ZM589.4,650.4 594.3,647.5 602.1,646.1 609.9,647.5 616.8,650.4 623.6,648.4 631.4,648.0 597.5,649.2 607.5,648.0 617.5,650.5 627.5,648.0 640.0,648.0 650.0,651.0 656.2,654.2 660.0,659.2 667.5,661.8 676.2,665.0 682.5,669.2 684.5,673.5 680.0,676.8 676.2,679.2 670.0,675.5 662.5,675.0 652.5,676.0 643.8,679.2 637.5,675.5 632.5,680.5 628.8,686.8 625.0,690.5 621.2,685.5 615.0,683.0 605.0,680.5 597.5,679.2 630.4,685.5 626.5,690.4 624.6,687.5 621.6,682.6 613.8,680.7 606.0,679.7 596.2,678.7 588.4,678.7 585.5,681.6 580.6,681.6 574.8,678.7 569.9,674.8 570.9,671.9 576.7,670.3 584.5,670.9 592.3,671.9 600.2,673.8 607.0,674.8 609.9,671.9 606.0,669.9 601.7,665.0 602.1,660.2 600.2,656.2 596.2,654.3 591.4,653.3ZM592.3,666.0 596.2,665.0 601.1,667.6 599.2,669.1 594.3,668.4ZM384.0,600.6 389.0,596.2 394.0,593.8 400.2,591.2 406.5,589.4 412.8,588.8 419.0,586.9 425.2,586.2 434.0,586.5 437.8,587.5 444.0,586.2 449.0,585.6 454.0,586.9 459.0,588.8 464.0,591.2 469.0,593.8 474.0,596.9 479.0,600.0 484.0,600.6 489.0,600.0 494.0,598.8 499.0,601.2 504.0,605.0 509.0,608.1 512.3,612.3 518.1,617.2 524.0,621.1 531.8,624.0 539.6,626.0 546.4,627.0 548.4,629.9 546.4,631.8 553.3,632.8 561.1,633.8 568.9,636.7 574.8,639.6 575.7,642.6 570.9,644.5 565.0,645.5 557.2,646.5 549.4,646.1 541.6,645.5 533.8,645.5 525.9,646.1 518.1,646.9 510.3,648.0 509.3,646.5 513.2,642.6 517.1,638.7 520.1,635.7 518.1,633.8 509.0,632.2 502.8,631.9 497.8,630.0 495.2,626.2 494.0,621.2 491.5,617.5 489.0,615.0 484.0,615.6 479.0,615.6 474.0,615.0 469.0,613.8 464.0,611.2 460.2,608.8 456.5,606.9 451.5,606.2 446.5,605.6 444.0,603.8 441.5,605.6 436.5,605.0 431.5,603.8 427.8,601.9 431.5,600.2 435.5,598.8 434.0,596.5 426.5,595.2 417.8,595.2 414.0,595.6 410.2,598.1 406.5,601.2 402.8,603.8 397.8,604.4 393.4,605.0 391.5,608.1 387.8,610.6 384.0,611.2 382.8,606.2ZM497.6,676.8 502.5,674.8 508.4,673.8 516.2,674.2 524.0,676.8 530.8,678.7 535.7,681.6 537.3,684.6 531.8,685.5 526.9,684.6 523.0,687.5 519.1,690.4 515.2,689.5 510.3,685.5 505.4,682.6 500.5,679.7ZM500.2,548.1 503.1,549.4 505.0,553.8 506.9,558.8 509.4,563.8 511.9,568.8 512.8,573.8 511.9,576.0 509.4,575.6 506.9,571.2 503.8,566.9 500.0,562.5 496.2,559.4 497.5,556.9 500.0,553.8 499.8,550.0ZM517.8,521.9 520.0,521.2 522.1,524.4 522.1,528.1 519.8,531.0 519.0,535.2 516.9,533.8 518.1,530.0 519.0,526.5ZM491.2,521.5 497.5,520.6 503.8,520.2 504.0,522.2 497.5,523.1 491.9,523.5ZM584.5,626.0 590.4,625.0 596.2,623.4 597.2,626.0 592.3,627.9 585.5,628.3ZM408.4,611.9 410.9,609.8 414.6,609.8 417.5,611.9 418.4,615.0 415.9,617.5 412.1,618.5 409.0,616.9ZM576.5,261.2 580.0,258.5 587.5,256.5 597.5,254.0 607.5,251.5 617.5,249.8 625.0,247.5 626.9,248.8 620.0,251.5 610.0,254.4 600.0,256.5 590.0,258.8 582.5,260.6 577.5,262.2ZM785.8,680.5 785.4,681.9 784.5,682.5 783.6,681.9 783.2,680.5 783.6,679.1 784.5,678.5 785.4,679.1ZM793.0,696.0 792.1,697.1 790.0,697.5 787.9,697.1 787.0,696.0 787.9,694.9 790.0,694.5 792.1,694.9ZM808.0,689.8 807.5,690.8 806.2,691.2 805.0,690.8 804.5,689.8 805.0,688.7 806.2,688.2 807.5,688.7ZM809.0,700.0 808.4,700.9 807.0,701.2 805.6,700.9 805.0,700.0 805.6,699.1 807.0,698.8 808.4,699.1ZM800.5,706.2 800.2,707.0 799.5,707.2 798.8,707.0 798.5,706.2 798.8,705.5 799.5,705.2 800.2,705.5ZM814.8,716.8 813.7,719.6 811.2,720.8 808.8,719.6 807.8,716.8 808.8,713.9 811.2,712.8 813.7,713.9ZM818.2,721.8 817.9,722.6 817.0,723.0 816.1,722.6 815.8,721.8 816.1,720.9 817.0,720.5 817.9,720.9ZM817.2,731.0 816.6,734.0 815.0,735.2 813.4,734.0 812.8,731.0 813.4,728.0 815.0,726.8 816.6,728.0ZM825.5,746.0 824.5,749.0 822.0,750.2 819.5,749.0 818.5,746.0 819.5,743.0 822.0,741.8 824.5,743.0ZM824.2,759.5 823.7,762.0 822.5,763.0 821.3,762.0 820.8,759.5 821.3,757.0 822.5,756.0 823.7,757.0ZM819.8,771.8 819.3,773.2 818.2,773.8 817.2,773.2 816.8,771.8 817.2,770.3 818.2,769.8 819.3,770.3ZM817.2,780.5 817.0,781.6 816.2,782.0 815.5,781.6 815.2,780.5 815.5,779.4 816.2,779.0 817.0,779.4ZM810.5,793.0 810.1,794.4 809.0,795.0 807.9,794.4 807.5,793.0 807.9,791.6 809.0,791.0 810.1,791.6ZM769.2,814.5 767.8,815.7 764.2,816.2 760.7,815.7 759.2,814.5 760.7,813.3 764.2,812.8 767.8,813.3Z" fill="#D3D3D3"/>
<path d="M123.0,718.0 130.0,718.0 138.0,721.0 148.0,723.0 156.8,726.8 165.5,725.0 175.5,720.5 183.0,716.8 193.0,716.8 203.0,720.5 213.0,726.8 223.0,735.5 233.0,744.2 243.0,751.8 253.0,757.5 263.0,759.2 273.0,761.0 283.0,766.0 293.0,768.5 303.0,771.8 313.0,773.0 319.2,775.0 320.5,770.0 325.5,769.2 329.2,774.2 326.8,778.0 328.0,780.5 335.5,786.8 340.5,793.0 348.0,800.5 354.2,808.0 359.2,815.5 356.8,823.0 359.2,830.5 365.5,834.2 370.5,839.2 375.5,838.0 380.5,840.5 387.5,839.2 397.5,851.8 402.5,858.0 407.5,861.8 407.5,883.0 -160.0,883.0ZM468.8,861.0 470.0,854.2 476.2,851.0 485.0,852.5 491.2,856.8 493.8,861.0ZM355.5,796.8 359.2,793.5 364.2,795.5 370.5,801.8 375.5,808.0 376.8,812.5 371.8,813.5 365.5,809.2 359.2,804.2 355.5,800.5ZM343.0,788.0 348.0,786.2 351.8,789.2 349.2,792.2 345.0,791.2ZM193.0,678.0 203.0,676.8 215.5,673.0 228.0,669.2 240.5,664.2 250.5,659.2 255.5,653.0 256.8,643.0 260.5,633.0 264.2,625.5 271.8,619.2 283.0,615.5 298.0,613.5 313.0,611.0 328.0,609.2 335.5,608.0 339.2,615.5 340.5,624.2 336.8,616.8 330.5,614.2 318.0,615.5 303.0,618.0 288.0,620.5 278.0,624.2 273.0,631.8 269.2,640.5 266.8,649.2 264.2,658.0 258.0,664.2 253.0,666.8 255.5,670.5 250.5,675.0 243.0,673.5 238.0,670.5 228.0,672.5 215.5,676.0 203.0,679.2 194.2,680.5ZM315.6,667.5 309.4,675.0 313.8,676.9 315.6,680.0 312.5,686.2 310.6,695.0 311.9,703.8 308.8,710.0 303.8,716.2 299.4,721.9 303.8,725.0 311.2,723.8 313.1,723.8 311.2,720.0 313.1,715.0 315.0,707.5 315.6,700.0 315.0,690.0 316.2,682.5 320.0,677.5 317.5,675.0 316.2,668.1ZM335.6,637.5 337.5,634.0 340.6,633.1 341.0,635.6 338.1,639.4ZM326.2,670.0 328.1,668.5 329.8,670.0 328.1,675.0 326.2,674.4ZM291.0,729.2 295.5,727.5 299.2,728.5 298.0,731.2 293.0,732.2ZM331.2,161.2 326.2,172.5 322.5,176.2 319.4,178.8 316.2,183.1 315.6,185.6 318.1,186.5 322.5,183.4 327.5,181.0 325.6,190.0 325.6,192.2 321.9,197.5 321.9,202.5 318.1,210.0 320.0,218.8 320.6,227.5 323.1,234.4 326.2,239.4 330.0,240.6 336.2,239.8 341.9,235.6 346.2,228.8 349.8,221.2 350.2,215.0 348.8,210.0 344.8,203.8 345.0,196.2 349.4,186.9 350.0,183.1 353.1,180.0 359.4,178.8 361.2,181.5 364.0,180.0 365.0,175.0 368.8,171.9 373.8,170.0 375.0,167.5 371.2,166.2 373.8,164.4 377.5,163.5 385.0,167.5 395.0,170.0 402.5,172.5 403.8,176.2 401.9,178.8 403.8,183.8 403.1,189.4 399.4,191.2 398.8,194.4 393.8,196.2 392.5,201.2 397.5,203.8 402.5,200.0 406.2,196.9 411.2,195.6 415.0,197.5 417.5,202.5 419.4,210.0 421.2,215.0 427.5,212.5 430.0,210.6 434.4,207.5 434.4,195.0 438.8,190.0 442.5,183.8 441.9,178.8 441.2,173.8 437.5,173.1 440.6,176.2 443.1,183.1 446.2,181.2 450.0,184.4 455.0,183.8 461.2,186.2 466.2,186.9 467.5,183.1 472.5,182.5 471.2,180.0 467.5,177.5 466.2,173.8 463.1,171.9 458.8,167.5 455.0,161.2ZM401.9,238.8 408.8,233.1 415.0,233.8 420.0,233.8 422.5,230.6 430.0,227.5 435.0,223.8 442.5,221.2 450.0,221.2 456.9,221.9 461.2,219.4 467.5,218.1 475.0,217.5 482.5,216.9 485.0,213.8 486.9,214.4 487.5,216.2 485.6,220.0 480.0,223.8 472.5,226.9 465.0,230.0 457.5,233.1 450.0,235.6 442.5,238.1 437.5,240.6 433.8,243.1 430.0,243.5 420.0,245.0 410.0,243.1ZM411.9,222.5 415.0,221.0 417.8,221.5 418.8,224.0 421.5,225.2 420.6,228.1 416.2,229.0 410.6,229.0 410.0,232.5 408.8,232.8 408.5,228.1 410.6,225.0ZM470.6,208.8 473.1,205.0 478.8,201.2 486.2,198.8 495.0,197.2 505.0,196.2 511.2,195.6 517.5,193.8 525.0,193.1 532.5,192.8 536.2,195.0 537.2,198.8 536.9,203.8 532.5,206.2 527.5,208.8 522.5,210.6 515.0,210.2 507.5,209.0 500.0,208.1 492.5,208.5 485.0,210.6 478.8,211.5 473.1,211.0ZM473.1,188.1 477.5,185.0 481.9,186.9 481.2,190.0 476.2,190.6ZM538.8,210.0 542.5,209.8 546.2,211.2 543.1,212.0ZM752.0,673.5 755.0,670.5 760.0,668.8 762.0,671.0 758.8,675.0 753.8,676.8ZM711.2,797.2 716.2,796.2 718.0,799.2 712.5,800.0ZM693.0,829.0 695.9,827.8 698.4,829.2 697.1,830.9 694.0,830.8ZM137.8,547.5 135.8,555.0 134.2,565.0 133.8,577.5 132.8,592.5 131.8,600.0 133.2,607.5 137.0,613.8 140.5,621.2 142.0,620.0 141.1,615.0 137.0,610.0 135.0,602.5 134.5,592.5 135.2,577.5 135.8,565.0 137.0,555.0 139.2,547.5ZM776.4,162.7 838.8,162.7 833.8,164.0 827.3,164.5 822.3,165.7 817.4,166.7 813.3,165.0 809.2,164.2 804.3,165.7 794.5,164.9 784.6,164.4 777.2,164.2Z" fill="#fff"/>
<path d="M536.2,193.5 542.5,189.4 548.8,184.4 555.0,180.0 558.8,178.5" fill="none" stroke="#fff" stroke-width="1.3"/>
<path d="M526.9,163.1 530.0,166.2 537.5,168.1 545.0,170.0 552.5,167.5 558.8,165.6" fill="none" stroke="#fff" stroke-width="0.8"/>
<path d="M488.1,185.6 495.0,185.6 503.1,185.0" fill="none" stroke="#fff" stroke-width="0.8"/>
<path d="M492.5,186.9 494.4,189.4" fill="none" stroke="#fff" stroke-width="0.8"/>
<path d="M538.8,180.0 534.4,183.1 536.9,185.6 535.0,188.1" fill="none" stroke="#fff" stroke-width="0.8"/>
<path d="M517.5,217.5 516.2,220.6" fill="none" stroke="#fff" stroke-width="0.8"/>
<path d="M520.0,222.5 518.8,225.6" fill="none" stroke="#fff" stroke-width="0.8"/>
<path d="M523.1,217.5 524.4,226.2" fill="none" stroke="#fff" stroke-width="0.8"/>
<path d="M526.9,216.9 531.2,224.4" fill="none" stroke="#fff" stroke-width="0.8"/>
<path d="M531.2,216.9 533.1,219.4" fill="none" stroke="#fff" stroke-width="0.8"/>
<path d="M533.8,216.2 536.0,218.8" fill="none" stroke="#fff" stroke-width="0.8"/>
<path d="M476.2,228.8 480.0,231.9" fill="none" stroke="#fff" stroke-width="0.8"/>
<path d="M498.1,193.8 503.1,191.2" fill="none" stroke="#fff" stroke-width="0.8"/>
<path d="M512.5,193.8 522.5,192.8" fill="none" stroke="#fff" stroke-width="0.8"/>
<path d="M542.5,331.2 545.0,336.2 548.1,341.2 550.0,346.2 551.2,352.5 550.6,358.1 547.5,361.2 542.5,363.8 537.5,366.9 533.8,370.0 531.2,371.2" fill="none" stroke="#fff" stroke-width="0.8"/>
<path d="M485.6,520.6 489.4,523.1 492.5,518.8 497.5,511.2 503.1,513.8 503.8,520.0" fill="none" stroke="#fff" stroke-width="0.8"/>
<path d="M509.4,516.2 515.0,518.8 518.8,521.9 521.9,524.4" fill="none" stroke="#fff" stroke-width="1.2"/>
<path d="M525.0,542.5 530.0,543.8 535.0,547.5 538.8,551.2 538.1,557.5" fill="none" stroke="#fff" stroke-width="1"/>
<path d="M512.5,551.2 518.8,550.2" fill="none" stroke="#fff" stroke-width="1"/>
<path d="M546.2,558.1 550.0,562.5 553.8,568.1" fill="none" stroke="#fff" stroke-width="1"/>
<path d="M526.2,560.0 532.5,567.5 540.0,576.2 547.5,581.2" fill="none" stroke="#fff" stroke-width="1"/>
<path d="M553.8,576.9 558.8,586.2 562.5,591.2" fill="none" stroke="#fff" stroke-width="1"/>
<path d="M568.5,565.0 569.8,571.5" fill="none" stroke="#fff" stroke-width="1"/>
<path d="M572.5,593.1 580.0,595.0 581.2,598.8 574.4,604.4" fill="none" stroke="#fff" stroke-width="1.2"/>
<path d="M479.4,538.1 480.0,541.2" fill="none" stroke="#fff" stroke-width="1.2"/>
<path d="M490.0,598.1 495.0,598.8 501.2,602.5 507.5,607.5 512.5,611.2" fill="none" stroke="#fff" stroke-width="0.9"/>
<path d="M516.9,297.5 522.5,302.5 531.2,305.0 535.0,310.0" fill="none" stroke="#fff" stroke-width="0.9"/>
<path d="M524.4,310.0 533.8,316.2" fill="none" stroke="#fff" stroke-width="0.9"/>
<path d="M526.2,318.8 534.4,322.5" fill="none" stroke="#fff" stroke-width="0.9"/>
<path d="M528.1,323.1 536.2,326.2" fill="none" stroke="#fff" stroke-width="0.9"/>
<path d="M530.0,285.6 537.5,283.1 542.5,280.0" fill="none" stroke="#fff" stroke-width="0.9"/>
<path d="M517.5,297.5 518.8,301.2" fill="none" stroke="#fff" stroke-width="0.9"/>
<path d="M576.9,261.0 582.5,260.0 590.0,258.5 600.0,256.0 610.0,253.8 620.0,251.0 625.6,248.8" fill="none" stroke="#fff" stroke-width="0.8"/>
<path d="M649.4,232.2 651.9,233.1 653.8,236.2 654.0,239.8 651.2,240.4 645.0,240.1" fill="none" stroke="#fff" stroke-width="1"/>
<path d="M638.1,243.8 645.0,245.2" fill="none" stroke="#fff" stroke-width="1"/>
<path d="M650.0,246.2 653.8,247.8" fill="none" stroke="#fff" stroke-width="1"/>
<path d="M311.2,327.5 315.0,335.0 316.2,346.2" fill="none" stroke="#fff" stroke-width="1"/>
<path d="M315.0,327.0 318.8,335.0" fill="none" stroke="#fff" stroke-width="1"/>
<path d="M363.8,335.0 370.0,333.8" fill="none" stroke="#fff" stroke-width="1"/>
<path d="M470.0,323.8 475.0,326.2" fill="none" stroke="#fff" stroke-width="1"/>
<path d="M490.0,332.5 497.5,335.0" fill="none" stroke="#fff" stroke-width="1"/>
<path d="M500.0,336.2 508.8,336.2" fill="none" stroke="#fff" stroke-width="1"/>
<path d="M322.5,368.0 336.2,372.0" fill="none" stroke="#fff" stroke-width="1"/>
<path d="M390.0,378.0 395.0,375.5" fill="none" stroke="#fff" stroke-width="1"/>
<path d="M407.5,372.5 413.8,375.0" fill="none" stroke="#fff" stroke-width="1"/>
<path d="M417.5,383.8 425.0,389.5" fill="none" stroke="#fff" stroke-width="1"/>
<path d="M437.0,381.5 443.8,382.2" fill="none" stroke="#fff" stroke-width="1"/>
<path d="M456.2,391.2 462.5,395.0" fill="none" stroke="#fff" stroke-width="1"/>
<path d="M347.5,393.0 350.0,391.2" fill="none" stroke="#fff" stroke-width="1"/>
<path d="M343.8,401.2 345.5,405.5" fill="none" stroke="#fff" stroke-width="1"/>
<path d="M307.0,193.8 309.0,198.8" fill="none" stroke="#fff" stroke-width="1"/>
<path d="M308.0,193.8 310.0,197.5" fill="none" stroke="#fff" stroke-width="1"/>
<path d="M148.0,385.0 156.0,385.5" fill="none" stroke="#fff" stroke-width="0.7"/>
<path d="M202.5,422.5 210.0,435.0" fill="none" stroke="#fff" stroke-width="0.7"/>
<path d="M206.0,425.0 208.0,432.5" fill="none" stroke="#fff" stroke-width="0.7"/>
<path d="M215.0,370.0 218.0,371.0" fill="none" stroke="#fff" stroke-width="0.7"/>
<path d="M255.0,200.0 257.5,210.0" fill="none" stroke="#fff" stroke-width="0.7"/>
<path d="M232.5,185.0 235.0,186.0" fill="none" stroke="#fff" stroke-width="0.7"/>
<path d="M280.0,195.0 283.0,196.0" fill="none" stroke="#fff" stroke-width="0.7"/>
<path d="M302.5,196.0 307.5,200.0" fill="none" stroke="#fff" stroke-width="0.7"/>
<path d="M748.8,688.2 755.0,687.8" fill="none" stroke="#fff" stroke-width="1.5"/>
<path d="M652.5,784.2 655.5,787.5" fill="none" stroke="#fff" stroke-width="1.2"/>
<path d="M668.8,788.5 676.2,794.2" fill="none" stroke="#fff" stroke-width="1.5"/>
<path d="M683.8,790.0 687.5,794.2" fill="none" stroke="#fff" stroke-width="1.5"/>
<path d="M724.5,798.5 726.5,798.0" fill="none" stroke="#fff" stroke-width="1.2"/>
<path d="M753.0,798.0 755.0,798.5" fill="none" stroke="#fff" stroke-width="1.2"/>
<path d="M739.0,815.0 743.0,815.5" fill="none" stroke="#fff" stroke-width="1.2"/>
<path d="M759.0,813.5 765.0,811.8 769.0,814.5" fill="none" stroke="#fff" stroke-width="0.8"/>
<path d="M740.0,680.5 748.8,676.8" fill="none" stroke="#fff" stroke-width="1"/>
<path d="M662.5,659.8 668.8,659.0" fill="none" stroke="#fff" stroke-width="1"/>
<path d="M615.0,672.5 625.0,675.0" fill="none" stroke="#fff" stroke-width="1"/>
<path d="M695.0,829.2 698.8,830.0" fill="none" stroke="#fff" stroke-width="1.5"/>
<path d="M702.5,848.0 703.0,851.8" fill="none" stroke="#fff" stroke-width="1.2"/>
<path d="M153.0,676.0 158.5,680.0" fill="none" stroke="#fff" stroke-width="1"/>
<path d="M208.5,698.5 215.5,700.5" fill="none" stroke="#fff" stroke-width="1"/>
<path d="M174.8,710.0 177.0,712.5" fill="none" stroke="#fff" stroke-width="1"/>
<path d="M224.2,715.0 239.2,723.0" fill="none" stroke="#fff" stroke-width="1"/>
<path d="M228.0,715.5 231.8,720.5" fill="none" stroke="#fff" stroke-width="1"/>
<path d="M255.0,744.8 257.5,744.2" fill="none" stroke="#fff" stroke-width="1"/>
<path d="M288.0,751.8 289.5,752.5" fill="none" stroke="#fff" stroke-width="1"/>
<path d="M297.5,764.0 299.0,763.0" fill="none" stroke="#fff" stroke-width="1"/>
<path d="M274.2,701.5 285.5,702.2" fill="none" stroke="#fff" stroke-width="1"/>
<path d="M261.2,688.5 262.5,690.0" fill="none" stroke="#fff" stroke-width="1"/>
<path d="M338.0,716.8 348.0,715.0 359.2,714.2" fill="none" stroke="#fff" stroke-width="1"/>
<path d="M343.0,718.2 353.0,717.5" fill="none" stroke="#fff" stroke-width="1"/>
<path d="M327.2,669.8 328.8,674.2" fill="none" stroke="#fff" stroke-width="1"/>
<path d="M318.5,693.5 320.0,697.5" fill="none" stroke="#fff" stroke-width="1"/>
<path d="M343.8,714.2 357.5,716.8" fill="none" stroke="#fff" stroke-width="1.5"/>
<path d="M440.0,658.0 446.2,658.8" fill="none" stroke="#fff" stroke-width="1.2"/>
<path d="M465.0,651.2 471.2,650.8" fill="none" stroke="#fff" stroke-width="0.9"/>
<path d="M375.0,610.0 390.0,608.5" fill="none" stroke="#fff" stroke-width="1"/>
<path d="M420.0,615.5 440.0,613.5" fill="none" stroke="#fff" stroke-width="0.7"/>
<path d="M657.5,164.4 660.9,166.9" fill="none" stroke="#fff" stroke-width="1.3"/>
<path d="M672.3,163.9 674.7,165.0" fill="none" stroke="#fff" stroke-width="1.3"/>
<path d="M693.4,163.9 701.2,165.6" fill="none" stroke="#fff" stroke-width="1.3"/>
<path d="M636.4,178.4 639.1,180.0" fill="none" stroke="#fff" stroke-width="1.3"/>
<path d="M627.0,202.2 630.2,205.0" fill="none" stroke="#fff" stroke-width="1.3"/>
<path d="M642.7,198.3 645.0,199.1" fill="none" stroke="#fff" stroke-width="1.3"/>
<path d="M742.7,190.5 746.9,193.1" fill="none" stroke="#fff" stroke-width="1.3"/>
<path d="M419.0,615.0 421.5,616.2" fill="none" stroke="#fff" stroke-width="1"/>
<path d="M426.5,615.6 432.1,614.4" fill="none" stroke="#fff" stroke-width="1"/>
<path d="M437.1,615.0 440.2,614.0" fill="none" stroke="#fff" stroke-width="1"/>
<path d="M407.1,613.8 409.0,617.2 412.1,618.8" fill="none" stroke="#fff" stroke-width="1"/>
<path d="M426.5,560.0 434.0,559.4 441.5,556.9 449.0,554.4 455.2,551.9 459.0,549.0" fill="none" stroke="#fff" stroke-width="1"/>
<path d="M439.0,588.1 449.0,585.0 459.0,587.5" fill="none" stroke="#fff" stroke-width="1"/>
<path d="M464.0,590.6 471.5,594.4 479.0,597.5 484.0,598.5" fill="none" stroke="#fff" stroke-width="1"/>
<path d="M491.5,598.1 499.0,600.6 509.0,606.2" fill="none" stroke="#fff" stroke-width="1"/>
<path d="M464.6,651.2 471.5,650.0" fill="none" stroke="#fff" stroke-width="1"/>
<path d="M439.6,657.5 445.2,658.1" fill="none" stroke="#fff" stroke-width="1"/>
<path d="M476.5,625.0 484.0,629.4 490.2,632.5" fill="none" stroke="#fff" stroke-width="1"/>
<path d="M150.0,166.5 154.4,163.5" fill="none" stroke="#fff" stroke-width="0.9"/>
<path d="M138.8,170.2 141.0,169.2" fill="none" stroke="#fff" stroke-width="0.9"/>
<path d="M141.6,171.9 142.8,172.8" fill="none" stroke="#fff" stroke-width="0.9"/>
<path d="M142.9,179.4 144.5,179.4" fill="none" stroke="#fff" stroke-width="0.9"/>
<path d="M146.0,185.6 147.5,184.0" fill="none" stroke="#fff" stroke-width="0.9"/>
<path d="M140.6,190.5 143.1,188.8" fill="none" stroke="#fff" stroke-width="0.9"/>
<path d="M172.5,168.2 177.8,165.5" fill="none" stroke="#fff" stroke-width="0.9"/>
<path d="M186.5,173.2 187.8,172.2" fill="none" stroke="#fff" stroke-width="0.9"/>
<path d="M211.5,179.2 212.8,178.2" fill="none" stroke="#fff" stroke-width="0.9"/>
<path d="M198.2,190.4 200.0,191.0" fill="none" stroke="#fff" stroke-width="0.9"/>
<path d="M180.0,201.2 181.9,201.5" fill="none" stroke="#fff" stroke-width="0.9"/>
<path d="M181.9,206.9 182.5,208.5" fill="none" stroke="#fff" stroke-width="0.9"/>
<path d="M220.2,164.8 221.5,164.0" fill="none" stroke="#fff" stroke-width="0.9"/>
<path d="M590.9,807.5 600.2,798.8 609.0,793.8 616.8,789.6" fill="none" stroke="#fff" stroke-width="2.2"/>
<path d="M650.5,803.5 658.8,803.8" fill="none" stroke="#fff" stroke-width="2.6"/>
<path d="M749.0,416.0 753.0,414.0" fill="none" stroke="#fff" stroke-width="1.2"/>
<path d="M313.1,723.8 323.8,721.9 336.2,720.2 345.0,723.1 357.5,721.0 367.5,720.2 380.0,721.9" fill="none" stroke="#fff" stroke-width="2"/>
<path d="M342.5,715.6 350.0,714.4 360.0,714.0" fill="none" stroke="#fff" stroke-width="1.5"/>
<path d="M322.5,652.5 326.9,653.8" fill="none" stroke="#fff" stroke-width="1.2"/>
<path d="M323.1,658.8 326.2,657.8" fill="none" stroke="#fff" stroke-width="1.2"/>
<path d="M317.5,696.2 320.0,691.9" fill="none" stroke="#fff" stroke-width="1"/>
<path d="M141.8,621.2 146.8,631.2 153.0,640.0 159.2,650.0 161.8,657.5 166.8,663.1" fill="none" stroke="#fff" stroke-width="0.8"/>
<path d="M288.8,470.0 293.1,475.0 296.9,474.4" fill="none" stroke="#fff" stroke-width="1.2"/>
<path d="M293.1,475.0 291.5,477.8" fill="none" stroke="#fff" stroke-width="1"/>
<path d="M373.1,443.1 375.6,444.0 377.5,442.8" fill="none" stroke="#fff" stroke-width="1.2"/>
<path d="M203.5,421.5 207.5,426.0 210.0,434.8" fill="none" stroke="#fff" stroke-width="1.4"/>
<path d="M825.0,810.0 830.5,807.5" fill="none" stroke="#fff" stroke-width="1.2"/>
<path d="M536.2,847.1 542.1,840.7 547.6,828.6 551.9,819.2 558.7,815.9" fill="none" stroke="#fff" stroke-width="1.6"/>
<path d="M396.0,781.7 398.6,791.5 396.6,803.2" fill="none" stroke="#fff" stroke-width="1.3"/>
<path d="M465.9,849.1 471.4,847.7" fill="none" stroke="#fff" stroke-width="1.6"/>
<path d="M399.5,855.9 407.3,858.9" fill="none" stroke="#fff" stroke-width="1.2"/>
<path d="M556.0,178.8 571.0,173.0 583.5,169.0 589.8,164.5" fill="none" stroke="#fff" stroke-width="1.4"/>
<path d="M556.0,167.5 571.0,167.0 581.0,165.5" fill="none" stroke="#fff" stroke-width="0.9"/>
<path d="M593.0,177.0 594.0,185.0 590.5,197.5 584.8,206.2" fill="none" stroke="#fff" stroke-width="1.3"/>
<path d="M611.0,174.5 612.5,179.0" fill="none" stroke="#fff" stroke-width="1.2"/>
<path d="M636.5,178.8 639.0,181.5" fill="none" stroke="#fff" stroke-width="1.5"/>
<path d="M628.0,202.5 631.0,205.5" fill="none" stroke="#fff" stroke-width="1.5"/>
<path d="M609.8,225.0 611.5,228.2" fill="none" stroke="#fff" stroke-width="1.3"/>
<path d="M643.0,198.0 645.0,200.0" fill="none" stroke="#fff" stroke-width="1.2"/>
<path d="M660.5,164.5 662.0,167.5" fill="none" stroke="#fff" stroke-width="1.2"/>
<path d="M579.6,233.8 580.0,255.0" fill="none" stroke="#4FFFB0" stroke-width="0.8"/>
<path d="M327.8,181.2 335.0,172.5 342.8,164.0" fill="none" stroke="#D3D3D3" stroke-width="1.6"/>
<path d="M372.0,460.0 379.5,458.5 384.8,455.5 391.0,455.0 397.2,458.8 402.2,464.0 406.0,468.5 411.0,472.2 414.8,475.6 417.2,480.6 417.9,485.6" fill="none" stroke="#8B0000" stroke-width="2.2" stroke-dasharray="3 1 2 1.5 4 1"/>
<path d="M419.2,506.2 422.0,511.2 425.8,515.6 429.8,520.0" fill="none" stroke="#8B0000" stroke-width="2.4" stroke-dasharray="3 1 2 1"/>
<path d="M415.1,490.0 416.0,495.0 418.9,498.8" fill="none" stroke="#8B0000" stroke-width="1.6" stroke-dasharray="2 1.5"/>
<path d="M437.2,440.0 437.2,447.5 438.0,453.8 439.2,460.0 441.1,466.2 443.6,471.2 446.8,476.9" fill="none" stroke="#8B0000" stroke-width="3.2" stroke-dasharray="3 1 2 1 4 1.5"/>
<path d="M434.5,442.5 435.1,451.2 436.4,458.8 438.9,466.9" fill="none" stroke="#8B0000" stroke-width="1.5" stroke-dasharray="1 2 2 1 1 3"/>
<path d="M438.8,440.0 441.9,432.5 448.1,423.1 456.2,415.0 463.8,408.8 471.2,403.8" fill="none" stroke="#8B0000" stroke-width="2" stroke-dasharray="2 1.5 3 1 1 2"/>
<path d="M436.2,445.0 435.0,455.0 437.5,465.0 442.5,475.0 446.9,482.5" fill="none" stroke="#8B0000" stroke-width="2.5" stroke-dasharray="3 1 2 1.5"/>
<path d="M472.5,398.8 478.8,393.8 485.0,388.8 491.2,383.8" fill="none" stroke="#8B0000" stroke-width="2" stroke-dasharray="2 1 3 2 1 1"/>
<path d="M133.0,542.5 136.8,532.5 139.9,525.0 138.0,517.5" fill="none" stroke="#8B0000" stroke-width="2" stroke-dasharray="2 1 1 1.5"/>
<path d="M146.8,490.0 155.5,485.0 164.2,481.2 173.0,476.9 181.8,471.2 188.0,465.0" fill="none" stroke="#8B0000" stroke-width="1.6" stroke-dasharray="2 2 1 1.5 3 2"/>
<path d="M477.5,392.5 482.5,387.5 491.2,383.8 500.0,380.0" fill="none" stroke="#8B0000" stroke-width="2" stroke-dasharray="2 1 1 1.5 3 1"/>
<path d="M446.0,515.0 453.2,511.5 454.8,515.0 452.0,520.6Z" fill="none" stroke="#D9A0A0" stroke-width="0.6"/>
<path d="M135 520h1v1h-1zM131 532h1v1h-1zM131 531h2v1h-2zM136 523h1v1h-1zM144 535h1v1h-1zM131 522h1v1h-1zM132 528h1v1h-1zM138 533h1v1h-1zM131 533h2v1h-2zM131 521h1v1h-1zM136 525h1v1h-1zM137 524h1v1h-1zM138 531h1v1h-1zM141 524h1v1h-1zM132 528h1v1h-1zM132 530h3v2h-3zM131 532h1v1h-1zM135 531h1v1h-1zM131 518h1v1h-1zM141 525h1v1h-1zM140 529h1v1h-1zM139 530h2v2h-2zM132 523h1v1h-1zM137 532h1v1h-1zM142 542h1v1h-1zM136 526h1v1h-1zM133 522h2v1h-2zM134 520h1v1h-1zM139 525h1v2h-1zM144 535h1v1h-1zM137 542h1v1h-1zM140 532h1v1h-1zM136 530h1v1h-1zM136 518h1v1h-1zM131 533h1v1h-1zM144 534h1v2h-1zM134 526h1v1h-1zM131 526h1v1h-1zM138 520h1v1h-1zM140 523h1v1h-1zM134 511h1v1h-1zM140 502h1v2h-1zM140 512h1v1h-1zM135 506h1v1h-1zM133 497h1v1h-1zM135 509h1v1h-1zM137 514h1v1h-1zM141 503h1v2h-1zM188 468h1v1h-1zM162 483h1v2h-1zM165 480h3v2h-3zM151 491h1v1h-1zM150 488h1v1h-1zM175 475h1v1h-1zM184 462h1v1h-1zM189 468h1v1h-1zM168 476h1v1h-1zM167 484h1v1h-1zM182 475h1v1h-1zM165 479h1v1h-1zM169 482h1v1h-1zM170 473h1v1h-1zM190 464h1v1h-1zM188 460h1v1h-1zM171 472h2v2h-2zM191 458h1v1h-1zM154 490h2v2h-2zM184 464h1v2h-1zM177 471h2v1h-2zM147 489h2v1h-2zM180 476h2v1h-2zM176 476h1v1h-1zM153 490h1v1h-1zM187 463h2v2h-2zM187 470h1v1h-1zM192 460h1v1h-1zM169 475h1v1h-1zM148 488h1v1h-1zM174 480h1v1h-1zM168 476h1v1h-1zM156 484h3v2h-3zM175 473h1v1h-1zM147 491h1v1h-1zM160 481h1v1h-1zM167 474h1v1h-1zM167 483h1v1h-1zM190 457h3v2h-3zM150 488h1v1h-1zM188 466h1v1h-1zM185 466h1v1h-1zM180 472h1v1h-1zM145 492h2v1h-2zM156 484h1v1h-1zM214 452h1v1h-1zM226 450h1v1h-1zM199 455h1v1h-1zM220 454h1v1h-1zM230 454h1v1h-1zM206 451h1v1h-1zM210 453h1v1h-1zM235 454h1v1h-1zM205 452h1v1h-1zM218 456h1v1h-1zM226 455h1v1h-1zM234 450h1v1h-1zM213 457h1v1h-1zM218 450h1v1h-1zM237 455h1v1h-1zM206 451h1v1h-1zM200 459h1v1h-1zM199 458h1v2h-1zM225 453h2v2h-2zM219 454h1v1h-1zM200 453h1v1h-1zM204 452h1v1h-1zM206 455h1v1h-1zM197 454h1v1h-1zM235 457h1v2h-1zM211 454h1v1h-1zM204 459h1v1h-1zM218 451h1v1h-1zM206 452h1v1h-1zM218 451h2v1h-2zM222 454h1v1h-1zM204 454h1v1h-1zM210 450h1v2h-1zM210 451h1v1h-1zM225 453h1v1h-1zM210 451h2v2h-2zM199 454h1v1h-1zM199 458h1v2h-1zM197 454h1v1h-1zM230 449h2v1h-2zM250 446h1v2h-1zM251 457h3v2h-3zM252 457h1v1h-1zM244 448h1v1h-1zM255 446h2v1h-2zM253 441h2v1h-2zM253 454h1v1h-1zM252 451h2v2h-2zM247 454h1v1h-1zM248 447h2v1h-2zM249 445h1v1h-1zM244 440h2v1h-2zM243 441h3v2h-3zM244 450h1v1h-1zM252 454h2v2h-2zM249 446h1v1h-1zM243 444h1v2h-1zM244 444h1v1h-1zM250 441h2v1h-2zM242 448h1v1h-1zM253 457h2v2h-2zM250 455h2v1h-2zM246 456h2v2h-2zM252 452h3v2h-3zM249 451h2v2h-2zM245 440h1v1h-1zM255 455h1v1h-1zM246 446h1v1h-1zM248 448h2v1h-2zM251 442h1v1h-1zM250 447h2v2h-2zM251 447h3v2h-3zM249 446h2v2h-2zM250 447h2v1h-2zM247 442h2v1h-2zM246 456h1v2h-1zM246 450h1v1h-1zM252 442h1v2h-1zM248 457h2v1h-2zM252 455h1v1h-1zM245 451h1v1h-1zM251 457h1v1h-1zM254 451h1v1h-1zM243 448h1v1h-1zM242 446h3v2h-3zM253 443h1v1h-1zM253 452h1v1h-1zM245 447h3v2h-3zM252 452h1v2h-1zM247 452h2v1h-2zM256 448h1v2h-1zM252 448h2v1h-2zM246 440h2v2h-2zM241 448h1v1h-1zM252 449h1v2h-1zM259 451h1v1h-1zM250 442h1v1h-1zM251 455h1v2h-1zM257 452h2v2h-2zM256 445h1v2h-1zM253 453h1v2h-1zM256 450h2v2h-2zM250 444h2v2h-2zM257 455h2v2h-2zM251 449h1v1h-1zM254 454h1v1h-1zM256 454h1v2h-1zM256 447h1v1h-1zM253 456h1v1h-1zM254 453h1v2h-1zM256 456h1v2h-1zM253 451h1v1h-1zM256 451h2v1h-2zM253 451h2v2h-2zM252 451h2v1h-2zM256 446h1v1h-1zM255 447h1v2h-1zM252 451h1v2h-1zM250 453h1v1h-1zM251 451h2v2h-2zM286 454h1v1h-1zM279 452h1v1h-1zM276 450h2v1h-2zM277 451h2v1h-2zM289 449h1v1h-1zM281 450h1v1h-1zM277 452h1v1h-1zM274 452h1v1h-1zM263 452h1v1h-1zM283 451h1v1h-1zM273 451h1v1h-1zM264 452h2v1h-2zM269 452h3v2h-3zM269 449h1v1h-1zM282 453h1v1h-1zM290 450h1v1h-1zM276 450h1v1h-1zM287 450h2v2h-2zM308 450h1v1h-1zM305 447h2v1h-2zM303 442h1v2h-1zM304 443h2v1h-2zM307 450h1v1h-1zM304 443h3v2h-3zM307 446h3v2h-3zM304 444h1v1h-1zM363 452h1v1h-1zM367 456h1v1h-1zM365 456h1v1h-1zM371 454h2v1h-2zM368 452h1v1h-1zM367 452h1v1h-1zM374 457h1v1h-1zM374 457h1v2h-1zM371 456h1v1h-1zM363 453h1v1h-1zM360 452h1v1h-1zM367 453h1v1h-1zM360 453h1v1h-1zM372 456h1v1h-1zM363 452h2v1h-2zM370 456h2v1h-2zM360 453h1v1h-1zM371 454h1v1h-1zM372 456h1v1h-1zM372 457h1v1h-1zM522 334h1v2h-1zM520 329h1v1h-1zM522 335h1v1h-1zM524 329h2v1h-2zM522 328h1v1h-1zM527 329h1v1h-1zM522 335h2v1h-2zM525 336h2v2h-2zM523 342h1v1h-1zM528 342h1v1h-1zM520 328h1v2h-1zM522 338h1v1h-1zM528 341h1v1h-1zM525 341h1v1h-1zM513 348h2v1h-2zM521 349h1v2h-1zM520 355h1v1h-1zM530 353h1v1h-1zM534 352h1v2h-1zM522 352h1v1h-1zM520 349h2v1h-2zM515 347h3v2h-3zM532 350h1v1h-1zM530 346h1v1h-1zM520 353h1v1h-1zM519 347h2v2h-2zM515 347h3v2h-3zM522 355h1v2h-1zM518 349h2v2h-2zM525 347h1v1h-1zM517 345h1v1h-1zM523 346h1v1h-1zM526 354h1v1h-1zM525 354h1v2h-1zM517 347h2v1h-2zM519 346h1v2h-1zM518 348h2v1h-2zM516 351h1v2h-1zM524 347h1v2h-1zM526 350h1v2h-1zM526 346h2v1h-2zM521 353h2v2h-2zM519 369h1v1h-1zM517 358h1v1h-1zM520 362h1v1h-1zM528 369h1v1h-1zM525 361h1v1h-1zM520 364h1v1h-1zM513 358h2v2h-2zM521 371h3v2h-3zM528 365h1v1h-1zM513 362h1v1h-1zM510 358h1v1h-1zM519 365h1v1h-1zM510 357h1v1h-1zM521 359h3v2h-3zM522 367h2v1h-2zM518 369h1v1h-1zM517 370h1v1h-1zM516 359h1v1h-1zM518 371h1v1h-1zM530 368h1v1h-1zM514 362h1v1h-1zM517 364h2v1h-2zM513 362h1v1h-1zM529 365h1v1h-1zM523 365h1v1h-1zM496 370h2v1h-2zM500 373h1v1h-1zM497 378h1v1h-1zM503 373h1v1h-1zM504 371h1v2h-1zM504 373h1v1h-1zM507 373h1v1h-1zM506 372h1v1h-1zM504 374h1v1h-1zM500 376h1v1h-1zM498 377h1v1h-1zM500 374h1v1h-1zM509 372h2v1h-2zM498 370h1v1h-1zM481 383h2v1h-2zM480 397h1v2h-1zM492 381h1v1h-1zM485 393h1v1h-1zM484 391h1v1h-1zM479 392h3v2h-3zM479 390h1v1h-1zM470 399h1v1h-1zM480 388h1v1h-1zM479 387h1v1h-1zM485 387h2v1h-2zM471 387h1v1h-1zM477 394h1v2h-1zM480 390h1v1h-1zM472 390h1v2h-1zM475 391h1v2h-1zM472 390h2v1h-2zM473 402h1v1h-1zM474 388h1v1h-1zM483 386h3v2h-3zM484 384h1v1h-1zM487 382h3v2h-3zM487 381h2v1h-2zM475 393h1v1h-1zM477 397h1v1h-1zM480 384h1v2h-1zM474 394h1v1h-1zM488 390h2v2h-2zM494 383h1v2h-1zM480 383h1v1h-1zM481 396h2v1h-2zM474 395h2v1h-2zM478 396h1v1h-1zM476 391h1v1h-1zM476 389h1v1h-1zM476 385h1v2h-1zM470 402h2v2h-2zM473 394h2v1h-2zM484 390h2v2h-2zM476 382h1v1h-1zM479 385h1v1h-1zM472 388h1v1h-1zM473 392h1v1h-1zM490 385h3v2h-3zM480 396h1v1h-1zM543 299h2v1h-2zM550 310h1v1h-1zM549 299h1v1h-1zM548 298h1v1h-1zM550 291h1v1h-1zM551 306h3v2h-3zM548 296h1v1h-1zM539 293h1v1h-1zM544 304h1v2h-1zM552 293h1v1h-1zM539 295h1v1h-1zM545 297h1v1h-1zM546 303h1v1h-1zM541 297h1v1h-1zM550 309h3v2h-3zM551 294h1v1h-1zM544 303h2v1h-2zM543 302h3v2h-3zM541 293h1v1h-1zM545 290h1v1h-1zM549 293h1v1h-1zM548 305h1v1h-1zM546 304h1v1h-1zM552 295h1v2h-1zM549 290h2v1h-2zM552 297h1v1h-1zM545 305h1v1h-1zM549 294h1v1h-1zM546 296h1v1h-1zM550 308h1v1h-1zM565 275h1v1h-1zM570 280h1v1h-1zM571 270h1v1h-1zM571 259h1v1h-1zM571 259h1v1h-1zM568 262h1v1h-1zM575 267h1v1h-1zM577 264h1v1h-1zM559 284h1v1h-1zM563 272h1v1h-1zM565 277h1v1h-1zM572 263h1v1h-1zM579 270h1v1h-1zM560 266h2v2h-2zM570 263h1v1h-1zM569 280h1v1h-1zM555 279h1v1h-1zM572 265h1v1h-1zM522 324h1v1h-1zM526 328h1v1h-1zM530 329h1v1h-1zM521 325h3v2h-3zM520 319h1v1h-1zM520 322h1v2h-1zM529 327h1v1h-1zM520 326h1v1h-1zM473 394h1v1h-1zM479 394h1v1h-1zM469 398h3v2h-3zM467 394h1v1h-1zM471 401h1v1h-1zM479 398h1v1h-1zM468 395h1v2h-1zM472 396h2v1h-2zM464 398h1v1h-1zM471 392h1v1h-1zM473 394h1v1h-1zM475 391h1v1h-1zM477 393h1v1h-1zM469 396h1v2h-1zM476 392h1v1h-1zM473 392h1v1h-1zM474 401h1v1h-1zM478 399h1v1h-1zM470 392h1v1h-1zM476 393h1v1h-1zM477 396h1v1h-1zM470 397h1v1h-1zM452 411h1v2h-1zM444 424h1v1h-1zM450 412h1v1h-1zM442 420h1v1h-1zM443 424h1v1h-1zM447 411h1v1h-1zM463 410h2v2h-2zM456 408h2v1h-2zM449 407h1v1h-1zM443 420h1v1h-1zM456 404h1v1h-1zM464 411h1v2h-1zM446 418h2v2h-2zM465 408h1v1h-1zM450 419h1v1h-1zM448 414h1v1h-1zM445 414h2v2h-2zM439 417h1v1h-1zM447 405h1v2h-1zM448 411h1v1h-1zM455 408h1v1h-1zM457 416h1v1h-1zM454 411h1v1h-1zM446 409h1v1h-1zM440 422h1v1h-1zM442 417h1v1h-1zM456 405h1v1h-1zM444 421h1v1h-1zM453 411h1v1h-1zM444 424h1v1h-1zM449 408h1v1h-1zM438 422h1v1h-1zM441 434h2v1h-2zM436 452h1v1h-1zM440 430h2v2h-2zM441 430h1v1h-1zM434 436h2v1h-2zM433 441h2v2h-2zM445 427h2v1h-2zM435 438h1v1h-1zM432 445h1v1h-1zM437 441h1v1h-1zM435 448h1v1h-1zM432 451h1v1h-1zM431 446h1v2h-1zM437 435h1v1h-1zM440 444h1v1h-1zM435 452h1v1h-1zM432 443h1v2h-1zM438 430h1v1h-1zM444 426h1v1h-1zM431 436h3v2h-3zM438 443h1v1h-1zM433 425h1v1h-1zM446 429h1v2h-1zM434 424h1v1h-1zM434 433h1v1h-1zM433 436h1v1h-1zM435 427h1v1h-1zM433 439h1v1h-1zM440 425h1v1h-1zM436 441h1v1h-1zM436 444h1v1h-1zM439 438h1v1h-1zM437 434h1v1h-1zM435 449h1v1h-1zM433 444h1v1h-1zM430 448h1v1h-1zM433 450h1v1h-1zM435 442h1v1h-1zM442 434h1v2h-1zM443 430h3v2h-3zM437 443h1v1h-1zM430 435h1v1h-1zM433 449h2v2h-2zM442 460h3v2h-3zM432 455h1v1h-1zM439 470h1v1h-1zM437 460h2v2h-2zM439 470h1v2h-1zM434 461h1v2h-1zM436 460h1v1h-1zM435 450h1v1h-1zM439 459h1v2h-1zM438 470h1v1h-1zM437 442h1v1h-1zM437 467h2v1h-2zM438 463h1v2h-1zM437 462h1v1h-1zM437 460h1v1h-1zM438 457h1v1h-1zM437 458h1v1h-1zM438 458h1v1h-1zM440 469h1v1h-1zM433 448h2v1h-2zM432 443h1v1h-1zM440 442h1v1h-1zM438 462h1v1h-1zM444 473h2v2h-2zM434 460h1v1h-1zM432 454h1v1h-1zM436 455h1v1h-1zM435 454h1v1h-1zM440 451h1v2h-1zM439 454h1v1h-1zM439 462h2v2h-2zM440 442h1v2h-1zM434 456h1v2h-1zM438 473h2v1h-2zM434 467h1v1h-1zM438 448h2v1h-2zM437 465h2v1h-2zM436 449h1v1h-1zM436 461h2v2h-2zM436 472h3v2h-3zM440 444h1v1h-1zM446 477h1v1h-1zM439 451h2v1h-2zM445 474h2v2h-2zM440 443h2v2h-2zM443 469h1v1h-1zM440 451h1v1h-1zM432 440h1v2h-1zM436 457h3v2h-3zM437 444h1v1h-1zM444 467h1v1h-1zM433 455h2v1h-2zM439 444h1v1h-1zM433 462h2v2h-2zM415 477h1v1h-1zM407 464h1v2h-1zM411 473h2v1h-2zM411 466h2v1h-2zM416 473h1v1h-1zM405 467h2v1h-2zM408 463h3v2h-3zM405 468h2v1h-2zM411 465h1v1h-1zM408 463h1v1h-1zM407 462h1v1h-1zM416 476h2v1h-2zM416 478h1v1h-1zM416 478h1v1h-1zM418 479h1v1h-1zM410 468h2v2h-2zM409 471h2v2h-2zM414 471h1v1h-1zM408 466h1v1h-1zM409 472h1v1h-1zM408 463h1v1h-1zM413 469h1v1h-1zM411 469h1v1h-1zM414 473h1v1h-1zM415 477h2v2h-2zM409 463h1v1h-1zM413 472h1v1h-1zM410 464h1v1h-1zM413 472h1v1h-1zM416 479h2v1h-2zM397 457h1v1h-1zM392 455h1v1h-1zM375 454h1v1h-1zM394 454h1v1h-1zM396 454h1v2h-1zM388 457h1v1h-1zM384 456h1v1h-1zM384 457h1v1h-1zM397 460h1v1h-1zM395 456h1v1h-1zM399 459h1v1h-1zM380 453h2v1h-2zM383 457h1v1h-1zM388 452h1v1h-1zM379 456h1v1h-1zM385 456h1v1h-1zM386 456h1v1h-1zM388 453h1v1h-1zM397 454h1v1h-1zM396 453h1v1h-1zM383 457h1v1h-1zM380 458h1v1h-1zM398 458h1v2h-1zM378 455h1v1h-1zM387 455h3v2h-3zM397 454h1v1h-1zM383 455h1v1h-1zM381 454h3v2h-3zM417 493h1v1h-1zM421 494h2v1h-2zM421 493h1v1h-1zM418 493h1v1h-1zM422 497h1v1h-1zM417 493h1v1h-1zM420 498h2v2h-2zM422 499h1v1h-1zM430 512h1v1h-1zM428 511h2v1h-2zM433 514h2v2h-2zM425 514h1v1h-1zM431 519h1v2h-1zM421 509h1v1h-1zM428 515h1v1h-1zM427 512h1v1h-1zM430 510h1v1h-1zM430 513h2v1h-2zM423 512h1v1h-1zM432 515h1v1h-1zM434 517h2v1h-2zM434 517h1v2h-1zM429 519h1v2h-1zM427 513h1v1h-1zM431 518h1v2h-1zM431 518h1v1h-1zM428 518h1v1h-1zM429 514h1v1h-1zM421 507h1v1h-1zM424 512h3v2h-3zM423 509h1v1h-1zM430 516h1v1h-1zM424 511h2v1h-2zM421 508h1v1h-1zM428 513h1v1h-1zM426 515h1v1h-1zM637 207h1v1h-1zM631 218h2v1h-2zM640 212h1v1h-1zM635 225h1v1h-1zM631 237h1v1h-1zM640 210h1v1h-1zM629 237h2v2h-2zM639 227h1v1h-1zM627 238h1v1h-1zM688 181h1v1h-1zM675 189h1v1h-1zM698 186h1v1h-1zM674 182h3v2h-3zM676 183h1v1h-1zM701 180h1v1h-1zM684 182h1v1h-1zM690 187h2v1h-2z" fill="#8B0000" shape-rendering="crispEdges"/>
<path d="M224 458h1v1h-1zM205 462h1v2h-1zM240 463h1v1h-1zM216 457h1v1h-1zM203 457h1v1h-1zM199 459h1v1h-1zM227 460h1v1h-1zM224 459h1v1h-1zM237 459h1v1h-1zM230 459h1v1h-1zM229 464h1v1h-1zM228 464h1v1h-1zM225 460h1v1h-1zM216 463h1v1h-1zM225 458h1v1h-1zM217 461h1v1h-1zM206 462h1v1h-1zM215 460h1v1h-1zM200 460h1v2h-1zM222 460h1v1h-1zM220 461h1v1h-1zM220 459h1v1h-1zM207 462h1v1h-1zM200 458h1v1h-1zM199 459h1v1h-1zM228 459h1v1h-1zM208 462h1v1h-1zM220 457h1v1h-1zM215 457h2v1h-2zM232 461h1v1h-1z" fill="#FF9E00" shape-rendering="crispEdges"/>
<path d="M273 459h1v1h-1zM265 466h1v1h-1zM284 463h1v1h-1zM273 457h1v1h-1zM265 470h1v1h-1zM266 459h1v1h-1zM280 460h1v1h-1zM262 463h1v1h-1zM276 467h1v1h-1zM288 470h1v2h-1zM287 469h2v2h-2zM277 459h1v2h-1zM285 458h1v1h-1zM282 459h1v1h-1zM272 466h1v1h-1zM287 465h1v1h-1zM262 464h1v1h-1zM278 457h2v1h-2zM260 457h1v1h-1zM256 464h1v1h-1zM272 470h2v2h-2zM269 465h1v1h-1zM285 462h1v1h-1zM276 466h1v2h-1zM254 463h1v1h-1zM256 459h1v1h-1zM255 457h1v1h-1zM264 469h1v1h-1zM288 460h1v1h-1zM260 456h1v1h-1zM265 464h1v1h-1zM291 470h1v1h-1zM258 464h1v2h-1zM263 460h1v1h-1zM276 469h3v2h-3zM273 462h1v1h-1zM266 457h2v1h-2zM275 467h1v1h-1zM288 466h1v1h-1zM276 467h1v1h-1zM563 282h1v1h-1zM564 282h1v1h-1zM562 286h1v1h-1zM566 286h1v1h-1zM561 286h1v1h-1zM560 285h1v1h-1zM564 283h1v1h-1zM558 282h1v1h-1zM214 457h1v1h-1zM198 462h1v1h-1zM218 461h1v1h-1zM204 458h2v1h-2zM204 457h1v1h-1zM223 464h1v2h-1zM233 464h1v1h-1zM223 458h3v2h-3zM199 459h1v1h-1zM240 464h1v1h-1zM221 464h1v1h-1zM226 461h1v2h-1zM220 461h1v1h-1zM214 461h1v1h-1zM217 462h1v1h-1zM239 462h1v1h-1zM233 463h3v2h-3zM218 462h1v1h-1zM198 460h1v1h-1zM229 462h2v2h-2z" fill="#FF7000" shape-rendering="crispEdges"/>
<path d="M278 459h1v1h-1zM269 468h1v1h-1zM282 471h1v1h-1zM265 469h1v1h-1zM273 460h1v1h-1zM267 461h1v1h-1zM276 471h1v2h-1zM272 469h1v1h-1zM267 467h1v1h-1zM274 472h1v1h-1zM256 468h1v1h-1zM253 463h1v1h-1zM276 462h3v2h-3zM280 459h1v1h-1zM282 467h1v1h-1zM280 456h1v1h-1zM279 463h1v1h-1zM260 472h1v1h-1zM277 469h2v2h-2zM263 466h1v1h-1zM284 466h1v1h-1zM289 468h1v1h-1zM257 469h1v1h-1zM282 463h1v1h-1zM281 461h1v1h-1zM276 466h1v1h-1zM275 470h1v1h-1zM284 465h1v1h-1zM260 462h1v1h-1zM282 459h1v1h-1zM278 461h1v1h-1zM281 469h1v1h-1zM290 469h1v1h-1zM282 464h1v1h-1zM272 463h1v1h-1zM282 468h1v1h-1zM263 456h1v1h-1zM279 471h1v1h-1zM272 464h1v1h-1zM271 460h1v1h-1zM443 495h1v1h-1zM443 497h1v1h-1zM442 489h1v1h-1zM437 494h2v2h-2zM442 482h1v1h-1zM433 484h1v1h-1zM440 490h1v1h-1zM441 495h1v1h-1zM442 481h1v1h-1zM435 491h1v1h-1zM207 460h1v1h-1zM230 459h1v1h-1zM208 458h1v1h-1zM200 457h1v1h-1zM223 459h1v1h-1zM217 457h1v1h-1zM199 462h1v1h-1zM231 464h1v1h-1zM225 463h1v1h-1zM206 463h1v1h-1zM224 464h1v1h-1zM199 461h1v1h-1z" fill="#fff" shape-rendering="crispEdges"/>
<path d="M541 298h1v1h-1zM540 299h1v1h-1zM540 297h2v2h-2zM541 299h1v1h-1zM541 300h2v1h-2zM543 298h1v1h-1zM542 299h1v1h-1zM542 300h1v1h-1zM540 297h1v1h-1zM539 297h1v1h-1z" fill="#FFCB00" shape-rendering="crispEdges"/>
<path d="M213 464h1v2h-1zM203 458h1v1h-1zM212 462h1v1h-1zM201 457h1v1h-1zM227 459h2v1h-2zM204 457h1v1h-1zM215 462h1v1h-1zM214 463h3v2h-3zM209 459h1v1h-1zM203 458h1v1h-1zM210 459h1v1h-1zM208 458h2v1h-2zM198 457h1v1h-1zM214 458h1v1h-1zM222 461h1v1h-1zM237 460h1v2h-1zM201 459h1v1h-1zM238 461h1v2h-1zM219 458h1v1h-1zM220 461h1v1h-1zM202 460h1v1h-1zM239 463h2v1h-2zM210 464h3v2h-3zM240 460h2v1h-2zM225 464h1v1h-1zM226 462h3v2h-3zM208 461h1v1h-1zM233 465h1v1h-1zM235 459h1v1h-1zM206 458h1v1h-1zM206 463h1v1h-1zM239 460h1v1h-1zM208 460h1v1h-1zM239 461h1v1h-1zM212 460h1v1h-1z" fill="#FFF900" shape-rendering="crispEdges"/>
</g>
<rect x="129.5" y="162.25" width="710.5" height="698" fill="none" stroke="#000" stroke-width="1"/>
<path d="M112.3 832.76H129.5M112.3 739.12H129.5M112.3 645.47H129.5M112.3 551.83H129.5M112.3 458.19H129.5M112.3 364.54H129.5M112.3 270.89H129.5M112.3 177.25H129.5M185.50 860.25V876.8M279.15 860.25V876.8M372.80 860.25V876.8M466.45 860.25V876.8M560.10 860.25V876.8M653.75 860.25V876.8M747.40 860.25V876.8" stroke="#000" stroke-width="1" fill="none"/>
<g font-size="23">
<text x="98.3" y="841.2" text-anchor="end">10°N</text>
<text x="98.3" y="747.5" text-anchor="end">15°N</text>
<text x="98.3" y="653.9" text-anchor="end">20°N</text>
<text x="98.3" y="560.2" text-anchor="end">25°N</text>
<text x="98.3" y="466.6" text-anchor="end">30°N</text>
<text x="98.3" y="372.9" text-anchor="end">35°N</text>
<text x="98.3" y="279.3" text-anchor="end">40°N</text>
<text x="98.3" y="185.7" text-anchor="end">45°N</text>
<text x="185.5" y="910" text-anchor="middle">95°W</text>
<text x="279.1" y="910" text-anchor="middle">90°W</text>
<text x="372.8" y="910" text-anchor="middle">85°W</text>
<text x="466.4" y="910" text-anchor="middle">80°W</text>
<text x="560.1" y="910" text-anchor="middle">75°W</text>
<text x="653.8" y="910" text-anchor="middle">70°W</text>
<text x="747.4" y="910" text-anchor="middle">65°W</text>
<text x="484.7" y="944.5" text-anchor="middle">Longitude</text>
<text transform="translate(40.6 511.2) rotate(-90)" text-anchor="middle">Latitude</text>
</g>
<text x="163.6" y="133.7" font-size="25.6">2021010718</text>
<text x="656.8" y="128.4" font-size="25.5">Elevation (m)</text>
<rect x="878.6" y="821.91" width="42.2" height="31.09" fill="#0000B2" stroke="#000" stroke-width="0.6"/>
<rect x="878.6" y="790.82" width="42.2" height="31.09" fill="#0000E0" stroke="#000" stroke-width="0.6"/>
<rect x="878.6" y="759.73" width="42.2" height="31.09" fill="#000FFF" stroke="#000" stroke-width="0.6"/>
<rect x="878.6" y="728.64" width="42.2" height="31.09" fill="#003CFF" stroke="#000" stroke-width="0.6"/>
<rect x="878.6" y="697.55" width="42.2" height="31.09" fill="#006AFF" stroke="#000" stroke-width="0.6"/>
<rect x="878.6" y="666.45" width="42.2" height="31.09" fill="#0097FF" stroke="#000" stroke-width="0.6"/>
<rect x="878.6" y="635.36" width="42.2" height="31.09" fill="#00C5FF" stroke="#000" stroke-width="0.6"/>
<rect x="878.6" y="604.27" width="42.2" height="31.09" fill="#00F3FF" stroke="#000" stroke-width="0.6"/>
<rect x="878.6" y="573.18" width="42.2" height="31.09" fill="#21FFDE" stroke="#000" stroke-width="0.6"/>
<rect x="878.6" y="542.09" width="42.2" height="31.09" fill="#4FFFB0" stroke="#000" stroke-width="0.6"/>
<rect x="878.6" y="511.00" width="42.2" height="31.09" fill="#7CFF83" stroke="#000" stroke-width="0.6"/>
<rect x="878.6" y="479.91" width="42.2" height="31.09" fill="#AAFF55" stroke="#000" stroke-width="0.6"/>
<rect x="878.6" y="448.82" width="42.2" height="31.09" fill="#D8FF27" stroke="#000" stroke-width="0.6"/>
<rect x="878.6" y="417.73" width="42.2" height="31.09" fill="#FFF900" stroke="#000" stroke-width="0.6"/>
<rect x="878.6" y="386.64" width="42.2" height="31.09" fill="#FFCB00" stroke="#000" stroke-width="0.6"/>
<rect x="878.6" y="355.55" width="42.2" height="31.09" fill="#FF9E00" stroke="#000" stroke-width="0.6"/>
<rect x="878.6" y="324.45" width="42.2" height="31.09" fill="#FF7000" stroke="#000" stroke-width="0.6"/>
<rect x="878.6" y="293.36" width="42.2" height="31.09" fill="#FF4200" stroke="#000" stroke-width="0.6"/>
<rect x="878.6" y="262.27" width="42.2" height="31.09" fill="#FF1500" stroke="#000" stroke-width="0.6"/>
<rect x="878.6" y="231.18" width="42.2" height="31.09" fill="#E60000" stroke="#000" stroke-width="0.6"/>
<rect x="878.6" y="200.09" width="42.2" height="31.09" fill="#B90000" stroke="#000" stroke-width="0.6"/>
<rect x="878.6" y="169.00" width="42.2" height="31.09" fill="#8B0000" stroke="#000" stroke-width="0.6"/>
<g font-size="32" text-anchor="middle">
<text x="960" y="833.5">-2</text>
<text x="960" y="771.3">-1.6</text>
<text x="960" y="709.1">-1.2</text>
<text x="960" y="647.0">-0.8</text>
<text x="960" y="584.8">-0.4</text>
<text x="960" y="522.6">0</text>
<text x="960" y="460.4">0.4</text>
<text x="960" y="398.2">0.8</text>
<text x="960" y="336.1">1.2</text>
<text x="960" y="273.9">1.6</text>
<text x="960" y="211.7">2</text>
</g>
</svg></body></html>
